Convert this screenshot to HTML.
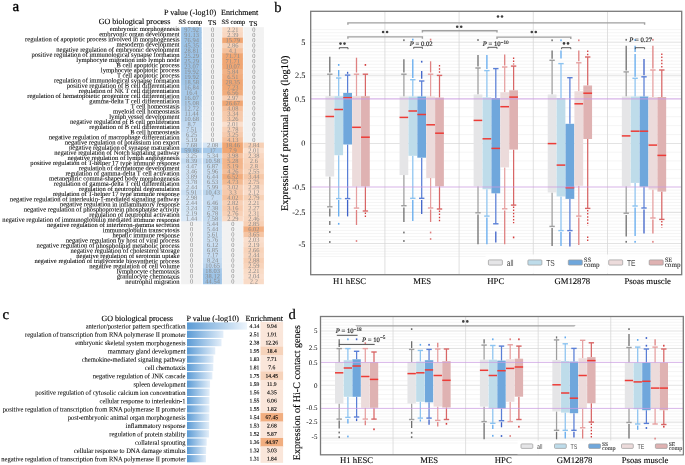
<!DOCTYPE html>
<html><head><meta charset="utf-8"><style>
html,body{margin:0;padding:0;background:#fff;width:685px;height:465px;overflow:hidden;}
svg{display:block;will-change:transform;}
text{text-rendering:geometricPrecision;}
</style></head><body>
<svg width="685" height="465" viewBox="0 0 685 465">
<rect width="685" height="465" fill="#fff"/>
<text x="12.50" y="11.10" font-size="15.0" font-family="Liberation Serif" text-anchor="start" fill="#000" stroke="#000" stroke-width="0.35">a</text>
<text x="274.30" y="11.90" font-size="14.6" font-family="Liberation Serif" text-anchor="start" fill="#000" stroke="#000" stroke-width="0.2">b</text>
<text x="2.40" y="318.80" font-size="14.6" font-family="Liberation Serif" text-anchor="start" fill="#000" stroke="#000" stroke-width="0.35">c</text>
<text x="288.50" y="319.00" font-size="14.6" font-family="Liberation Serif" text-anchor="start" fill="#000" stroke="#000" stroke-width="0.2">d</text>
<text x="164.00" y="14.50" font-size="8.1" font-family="Liberation Serif" text-anchor="start" fill="#000" stroke="#000" stroke-width="0.12">P value (-log10)</text>
<text x="221.00" y="14.50" font-size="8.0" font-family="Liberation Serif" text-anchor="start" fill="#000" stroke="#000" stroke-width="0.12">Enrichment</text>
<text x="98.80" y="24.10" font-size="8.0" font-family="Liberation Serif" text-anchor="start" fill="#000" stroke="#000" stroke-width="0.12">GO biological process</text>
<text x="190.30" y="24.00" font-size="6.6" font-family="Liberation Serif" text-anchor="middle" fill="#000" stroke="#000" stroke-width="0.12">SS comp</text>
<text x="212.20" y="24.80" font-size="7.2" font-family="Liberation Serif" text-anchor="middle" fill="#000" stroke="#000" stroke-width="0.12">TS</text>
<text x="233.30" y="24.40" font-size="6.6" font-family="Liberation Serif" text-anchor="middle" fill="#000" stroke="#000" stroke-width="0.12">SS comp</text>
<text x="253.30" y="25.50" font-size="7.2" font-family="Liberation Serif" text-anchor="middle" fill="#000" stroke="#000" stroke-width="0.12">TS</text>
<rect x="181.10" y="27.18" width="20.60" height="5.85" fill="#9dc3e6"/>
<rect x="202.90" y="27.18" width="19.00" height="5.85" fill="#f2f2f2"/>
<rect x="222.20" y="27.18" width="20.70" height="5.85" fill="#f9dbc6"/>
<rect x="243.40" y="27.18" width="20.50" height="5.85" fill="#f2f2f2"/>
<text transform="translate(191.60,31.80) rotate(0.05) scale(1.0,1.0)" font-size="6.45" font-family="Liberation Serif" text-anchor="middle" fill="#888888">97.92</text>
<text transform="translate(212.60,31.80) rotate(0.05) scale(1.0,1.0)" font-size="6.45" font-family="Liberation Serif" text-anchor="middle" fill="#888888">0</text>
<text transform="translate(232.75,31.80) rotate(0.05) scale(1.0,1.0)" font-size="6.45" font-family="Liberation Serif" text-anchor="middle" fill="#888888">2.21</text>
<text transform="translate(253.85,31.80) rotate(0.05) scale(1.0,1.0)" font-size="6.45" font-family="Liberation Serif" text-anchor="middle" fill="#888888">0</text>
<rect x="181.10" y="32.42" width="20.60" height="5.85" fill="#9dc3e6"/>
<rect x="202.90" y="32.42" width="19.00" height="5.85" fill="#f2f2f2"/>
<rect x="222.20" y="32.42" width="20.70" height="5.85" fill="#f9d7c1"/>
<rect x="243.40" y="32.42" width="20.50" height="5.85" fill="#f2f2f2"/>
<text transform="translate(191.60,37.05) rotate(0.05) scale(1.0,1.0)" font-size="6.45" font-family="Liberation Serif" text-anchor="middle" fill="#888888">91.13</text>
<text transform="translate(212.60,37.05) rotate(0.05) scale(1.0,1.0)" font-size="6.45" font-family="Liberation Serif" text-anchor="middle" fill="#888888">0</text>
<text transform="translate(232.75,37.05) rotate(0.05) scale(1.0,1.0)" font-size="6.45" font-family="Liberation Serif" text-anchor="middle" fill="#888888">2.39</text>
<text transform="translate(253.85,37.05) rotate(0.05) scale(1.0,1.0)" font-size="6.45" font-family="Liberation Serif" text-anchor="middle" fill="#888888">0</text>
<rect x="181.10" y="37.67" width="20.60" height="5.85" fill="#9dc3e6"/>
<rect x="202.90" y="37.67" width="19.00" height="5.85" fill="#f2f2f2"/>
<rect x="222.20" y="37.67" width="20.70" height="5.85" fill="#f0a673"/>
<rect x="243.40" y="37.67" width="20.50" height="5.85" fill="#f2f2f2"/>
<text transform="translate(191.60,42.29) rotate(0.05) scale(1.0,1.0)" font-size="6.45" font-family="Liberation Serif" text-anchor="middle" fill="#888888">76.94</text>
<text transform="translate(212.60,42.29) rotate(0.05) scale(1.0,1.0)" font-size="6.45" font-family="Liberation Serif" text-anchor="middle" fill="#888888">0</text>
<text transform="translate(232.75,42.29) rotate(0.05) scale(1.0,1.0)" font-size="6.45" font-family="Liberation Serif" text-anchor="middle" fill="#888888">15.79</text>
<text transform="translate(253.85,42.29) rotate(0.05) scale(1.0,1.0)" font-size="6.45" font-family="Liberation Serif" text-anchor="middle" fill="#888888">0</text>
<rect x="181.10" y="42.91" width="20.60" height="5.85" fill="#9dc3e6"/>
<rect x="202.90" y="42.91" width="19.00" height="5.85" fill="#f2f2f2"/>
<rect x="222.20" y="42.91" width="20.70" height="5.85" fill="#f7d0b5"/>
<rect x="243.40" y="42.91" width="20.50" height="5.85" fill="#f2f2f2"/>
<text transform="translate(191.60,47.54) rotate(0.05) scale(1.0,1.0)" font-size="6.45" font-family="Liberation Serif" text-anchor="middle" fill="#888888">45.35</text>
<text transform="translate(212.60,47.54) rotate(0.05) scale(1.0,1.0)" font-size="6.45" font-family="Liberation Serif" text-anchor="middle" fill="#888888">0</text>
<text transform="translate(232.75,47.54) rotate(0.05) scale(1.0,1.0)" font-size="6.45" font-family="Liberation Serif" text-anchor="middle" fill="#888888">2.86</text>
<text transform="translate(253.85,47.54) rotate(0.05) scale(1.0,1.0)" font-size="6.45" font-family="Liberation Serif" text-anchor="middle" fill="#888888">0</text>
<rect x="181.10" y="48.16" width="20.60" height="5.85" fill="#9dc3e6"/>
<rect x="202.90" y="48.16" width="19.00" height="5.85" fill="#f2f2f2"/>
<rect x="222.20" y="48.16" width="20.70" height="5.85" fill="#f5c09c"/>
<rect x="243.40" y="48.16" width="20.50" height="5.85" fill="#f2f2f2"/>
<text transform="translate(191.60,52.78) rotate(0.05) scale(1.0,1.0)" font-size="6.45" font-family="Liberation Serif" text-anchor="middle" fill="#888888">28.81</text>
<text transform="translate(212.60,52.78) rotate(0.05) scale(1.0,1.0)" font-size="6.45" font-family="Liberation Serif" text-anchor="middle" fill="#888888">0</text>
<text transform="translate(232.75,52.78) rotate(0.05) scale(1.0,1.0)" font-size="6.45" font-family="Liberation Serif" text-anchor="middle" fill="#888888">4.1</text>
<text transform="translate(253.85,52.78) rotate(0.05) scale(1.0,1.0)" font-size="6.45" font-family="Liberation Serif" text-anchor="middle" fill="#888888">0</text>
<rect x="181.10" y="53.41" width="20.60" height="5.85" fill="#9dc3e6"/>
<rect x="202.90" y="53.41" width="19.00" height="5.85" fill="#f2f2f2"/>
<rect x="222.20" y="53.41" width="20.70" height="5.85" fill="#f0a673"/>
<rect x="243.40" y="53.41" width="20.50" height="5.85" fill="#f2f2f2"/>
<text transform="translate(191.60,58.03) rotate(0.05) scale(1.0,1.0)" font-size="6.45" font-family="Liberation Serif" text-anchor="middle" fill="#888888">25.29</text>
<text transform="translate(212.60,58.03) rotate(0.05) scale(1.0,1.0)" font-size="6.45" font-family="Liberation Serif" text-anchor="middle" fill="#888888">0</text>
<text transform="translate(232.75,58.03) rotate(0.05) scale(1.0,1.0)" font-size="6.45" font-family="Liberation Serif" text-anchor="middle" fill="#888888">71.71</text>
<text transform="translate(253.85,58.03) rotate(0.05) scale(1.0,1.0)" font-size="6.45" font-family="Liberation Serif" text-anchor="middle" fill="#888888">0</text>
<rect x="181.10" y="58.65" width="20.60" height="5.85" fill="#9dc3e6"/>
<rect x="202.90" y="58.65" width="19.00" height="5.85" fill="#f2f2f2"/>
<rect x="222.20" y="58.65" width="20.70" height="5.85" fill="#f0a673"/>
<rect x="243.40" y="58.65" width="20.50" height="5.85" fill="#f2f2f2"/>
<text transform="translate(191.60,63.28) rotate(0.05) scale(1.0,1.0)" font-size="6.45" font-family="Liberation Serif" text-anchor="middle" fill="#888888">25.29</text>
<text transform="translate(212.60,63.28) rotate(0.05) scale(1.0,1.0)" font-size="6.45" font-family="Liberation Serif" text-anchor="middle" fill="#888888">0</text>
<text transform="translate(232.75,63.28) rotate(0.05) scale(1.0,1.0)" font-size="6.45" font-family="Liberation Serif" text-anchor="middle" fill="#888888">71.71</text>
<text transform="translate(253.85,63.28) rotate(0.05) scale(1.0,1.0)" font-size="6.45" font-family="Liberation Serif" text-anchor="middle" fill="#888888">0</text>
<rect x="181.10" y="63.90" width="20.60" height="5.85" fill="#9dc3e6"/>
<rect x="202.90" y="63.90" width="19.00" height="5.85" fill="#f2f2f2"/>
<rect x="222.20" y="63.90" width="20.70" height="5.85" fill="#f0a673"/>
<rect x="243.40" y="63.90" width="20.50" height="5.85" fill="#f2f2f2"/>
<text transform="translate(191.60,68.52) rotate(0.05) scale(1.0,1.0)" font-size="6.45" font-family="Liberation Serif" text-anchor="middle" fill="#888888">23.07</text>
<text transform="translate(212.60,68.52) rotate(0.05) scale(1.0,1.0)" font-size="6.45" font-family="Liberation Serif" text-anchor="middle" fill="#888888">0</text>
<text transform="translate(232.75,68.52) rotate(0.05) scale(1.0,1.0)" font-size="6.45" font-family="Liberation Serif" text-anchor="middle" fill="#888888">10.07</text>
<text transform="translate(253.85,68.52) rotate(0.05) scale(1.0,1.0)" font-size="6.45" font-family="Liberation Serif" text-anchor="middle" fill="#888888">0</text>
<rect x="181.10" y="69.14" width="20.60" height="5.85" fill="#9dc3e6"/>
<rect x="202.90" y="69.14" width="19.00" height="5.85" fill="#f2f2f2"/>
<rect x="222.20" y="69.14" width="20.70" height="5.85" fill="#f2b184"/>
<rect x="243.40" y="69.14" width="20.50" height="5.85" fill="#f2f2f2"/>
<text transform="translate(191.60,73.77) rotate(0.05) scale(1.0,1.0)" font-size="6.45" font-family="Liberation Serif" text-anchor="middle" fill="#888888">19.92</text>
<text transform="translate(212.60,73.77) rotate(0.05) scale(1.0,1.0)" font-size="6.45" font-family="Liberation Serif" text-anchor="middle" fill="#888888">0</text>
<text transform="translate(232.75,73.77) rotate(0.05) scale(1.0,1.0)" font-size="6.45" font-family="Liberation Serif" text-anchor="middle" fill="#888888">5.84</text>
<text transform="translate(253.85,73.77) rotate(0.05) scale(1.0,1.0)" font-size="6.45" font-family="Liberation Serif" text-anchor="middle" fill="#888888">0</text>
<rect x="181.10" y="74.39" width="20.60" height="5.85" fill="#9dc3e6"/>
<rect x="202.90" y="74.39" width="19.00" height="5.85" fill="#f2f2f2"/>
<rect x="222.20" y="74.39" width="20.70" height="5.85" fill="#f1ac7d"/>
<rect x="243.40" y="74.39" width="20.50" height="5.85" fill="#f2f2f2"/>
<text transform="translate(191.60,79.01) rotate(0.05) scale(1.0,1.0)" font-size="6.45" font-family="Liberation Serif" text-anchor="middle" fill="#888888">19.92</text>
<text transform="translate(212.60,79.01) rotate(0.05) scale(1.0,1.0)" font-size="6.45" font-family="Liberation Serif" text-anchor="middle" fill="#888888">0</text>
<text transform="translate(232.75,79.01) rotate(0.05) scale(1.0,1.0)" font-size="6.45" font-family="Liberation Serif" text-anchor="middle" fill="#888888">6.51</text>
<text transform="translate(253.85,79.01) rotate(0.05) scale(1.0,1.0)" font-size="6.45" font-family="Liberation Serif" text-anchor="middle" fill="#888888">0</text>
<rect x="181.10" y="79.64" width="20.60" height="5.85" fill="#a1c6e7"/>
<rect x="202.90" y="79.64" width="19.00" height="5.85" fill="#f2f2f2"/>
<rect x="222.20" y="79.64" width="20.70" height="5.85" fill="#f0a673"/>
<rect x="243.40" y="79.64" width="20.50" height="5.85" fill="#f2f2f2"/>
<text transform="translate(191.60,84.26) rotate(0.05) scale(1.0,1.0)" font-size="6.45" font-family="Liberation Serif" text-anchor="middle" fill="#888888">18.58</text>
<text transform="translate(212.60,84.26) rotate(0.05) scale(1.0,1.0)" font-size="6.45" font-family="Liberation Serif" text-anchor="middle" fill="#888888">0</text>
<text transform="translate(232.75,84.26) rotate(0.05) scale(1.0,1.0)" font-size="6.45" font-family="Liberation Serif" text-anchor="middle" fill="#888888">28.35</text>
<text transform="translate(253.85,84.26) rotate(0.05) scale(1.0,1.0)" font-size="6.45" font-family="Liberation Serif" text-anchor="middle" fill="#888888">0</text>
<rect x="181.10" y="84.88" width="20.60" height="5.85" fill="#a7c9e9"/>
<rect x="202.90" y="84.88" width="19.00" height="5.85" fill="#f2f2f2"/>
<rect x="222.20" y="84.88" width="20.70" height="5.85" fill="#f0a875"/>
<rect x="243.40" y="84.88" width="20.50" height="5.85" fill="#f2f2f2"/>
<text transform="translate(191.60,89.50) rotate(0.05) scale(1.0,1.0)" font-size="6.45" font-family="Liberation Serif" text-anchor="middle" fill="#888888">16.84</text>
<text transform="translate(212.60,89.50) rotate(0.05) scale(1.0,1.0)" font-size="6.45" font-family="Liberation Serif" text-anchor="middle" fill="#888888">0</text>
<text transform="translate(232.75,89.50) rotate(0.05) scale(1.0,1.0)" font-size="6.45" font-family="Liberation Serif" text-anchor="middle" fill="#888888">7.23</text>
<text transform="translate(253.85,89.50) rotate(0.05) scale(1.0,1.0)" font-size="6.45" font-family="Liberation Serif" text-anchor="middle" fill="#888888">0</text>
<rect x="181.10" y="90.13" width="20.60" height="5.85" fill="#a8cae9"/>
<rect x="202.90" y="90.13" width="19.00" height="5.85" fill="#f2f2f2"/>
<rect x="222.20" y="90.13" width="20.70" height="5.85" fill="#f1ac7c"/>
<rect x="243.40" y="90.13" width="20.50" height="5.85" fill="#f2f2f2"/>
<text transform="translate(191.60,94.75) rotate(0.05) scale(1.0,1.0)" font-size="6.45" font-family="Liberation Serif" text-anchor="middle" fill="#888888">16.4</text>
<text transform="translate(212.60,94.75) rotate(0.05) scale(1.0,1.0)" font-size="6.45" font-family="Liberation Serif" text-anchor="middle" fill="#888888">0</text>
<text transform="translate(232.75,94.75) rotate(0.05) scale(1.0,1.0)" font-size="6.45" font-family="Liberation Serif" text-anchor="middle" fill="#888888">6.56</text>
<text transform="translate(253.85,94.75) rotate(0.05) scale(1.0,1.0)" font-size="6.45" font-family="Liberation Serif" text-anchor="middle" fill="#888888">0</text>
<rect x="181.10" y="95.37" width="20.60" height="5.85" fill="#a9cbe9"/>
<rect x="202.90" y="95.37" width="19.00" height="5.85" fill="#f2f2f2"/>
<rect x="222.20" y="95.37" width="20.70" height="5.85" fill="#f7ceb2"/>
<rect x="243.40" y="95.37" width="20.50" height="5.85" fill="#f2f2f2"/>
<text transform="translate(191.60,100.00) rotate(0.05) scale(1.0,1.0)" font-size="6.45" font-family="Liberation Serif" text-anchor="middle" fill="#888888">16.07</text>
<text transform="translate(212.60,100.00) rotate(0.05) scale(1.0,1.0)" font-size="6.45" font-family="Liberation Serif" text-anchor="middle" fill="#888888">0</text>
<text transform="translate(232.75,100.00) rotate(0.05) scale(1.0,1.0)" font-size="6.45" font-family="Liberation Serif" text-anchor="middle" fill="#888888">2.97</text>
<text transform="translate(253.85,100.00) rotate(0.05) scale(1.0,1.0)" font-size="6.45" font-family="Liberation Serif" text-anchor="middle" fill="#888888">0</text>
<rect x="181.10" y="100.62" width="20.60" height="5.85" fill="#adcdea"/>
<rect x="202.90" y="100.62" width="19.00" height="5.85" fill="#f2f2f2"/>
<rect x="222.20" y="100.62" width="20.70" height="5.85" fill="#f0a673"/>
<rect x="243.40" y="100.62" width="20.50" height="5.85" fill="#f2f2f2"/>
<text transform="translate(191.60,105.24) rotate(0.05) scale(1.0,1.0)" font-size="6.45" font-family="Liberation Serif" text-anchor="middle" fill="#888888">15.08</text>
<text transform="translate(212.60,105.24) rotate(0.05) scale(1.0,1.0)" font-size="6.45" font-family="Liberation Serif" text-anchor="middle" fill="#888888">0</text>
<text transform="translate(232.75,105.24) rotate(0.05) scale(1.0,1.0)" font-size="6.45" font-family="Liberation Serif" text-anchor="middle" fill="#888888">26.67</text>
<text transform="translate(253.85,105.24) rotate(0.05) scale(1.0,1.0)" font-size="6.45" font-family="Liberation Serif" text-anchor="middle" fill="#888888">0</text>
<rect x="181.10" y="105.86" width="20.60" height="5.85" fill="#b4d1ec"/>
<rect x="202.90" y="105.86" width="19.00" height="5.85" fill="#f2f2f2"/>
<rect x="222.20" y="105.86" width="20.70" height="5.85" fill="#f5c09c"/>
<rect x="243.40" y="105.86" width="20.50" height="5.85" fill="#f2f2f2"/>
<text transform="translate(191.60,110.49) rotate(0.05) scale(1.0,1.0)" font-size="6.45" font-family="Liberation Serif" text-anchor="middle" fill="#888888">12.72</text>
<text transform="translate(212.60,110.49) rotate(0.05) scale(1.0,1.0)" font-size="6.45" font-family="Liberation Serif" text-anchor="middle" fill="#888888">0</text>
<text transform="translate(232.75,110.49) rotate(0.05) scale(1.0,1.0)" font-size="6.45" font-family="Liberation Serif" text-anchor="middle" fill="#888888">4.08</text>
<text transform="translate(253.85,110.49) rotate(0.05) scale(1.0,1.0)" font-size="6.45" font-family="Liberation Serif" text-anchor="middle" fill="#888888">0</text>
<rect x="181.10" y="111.11" width="20.60" height="5.85" fill="#b8d4ed"/>
<rect x="202.90" y="111.11" width="19.00" height="5.85" fill="#f2f2f2"/>
<rect x="222.20" y="111.11" width="20.70" height="5.85" fill="#f6c9aa"/>
<rect x="243.40" y="111.11" width="20.50" height="5.85" fill="#f2f2f2"/>
<text transform="translate(191.60,115.73) rotate(0.05) scale(1.0,1.0)" font-size="6.45" font-family="Liberation Serif" text-anchor="middle" fill="#888888">11.44</text>
<text transform="translate(212.60,115.73) rotate(0.05) scale(1.0,1.0)" font-size="6.45" font-family="Liberation Serif" text-anchor="middle" fill="#888888">0</text>
<text transform="translate(232.75,115.73) rotate(0.05) scale(1.0,1.0)" font-size="6.45" font-family="Liberation Serif" text-anchor="middle" fill="#888888">3.34</text>
<text transform="translate(253.85,115.73) rotate(0.05) scale(1.0,1.0)" font-size="6.45" font-family="Liberation Serif" text-anchor="middle" fill="#888888">0</text>
<rect x="181.10" y="116.36" width="20.60" height="5.85" fill="#bad5ee"/>
<rect x="202.90" y="116.36" width="19.00" height="5.85" fill="#f2f2f2"/>
<rect x="222.20" y="116.36" width="20.70" height="5.85" fill="#f6caac"/>
<rect x="243.40" y="116.36" width="20.50" height="5.85" fill="#f2f2f2"/>
<text transform="translate(191.60,120.98) rotate(0.05) scale(1.0,1.0)" font-size="6.45" font-family="Liberation Serif" text-anchor="middle" fill="#888888">10.68</text>
<text transform="translate(212.60,120.98) rotate(0.05) scale(1.0,1.0)" font-size="6.45" font-family="Liberation Serif" text-anchor="middle" fill="#888888">0</text>
<text transform="translate(232.75,120.98) rotate(0.05) scale(1.0,1.0)" font-size="6.45" font-family="Liberation Serif" text-anchor="middle" fill="#888888">3.26</text>
<text transform="translate(253.85,120.98) rotate(0.05) scale(1.0,1.0)" font-size="6.45" font-family="Liberation Serif" text-anchor="middle" fill="#888888">0</text>
<rect x="181.10" y="121.60" width="20.60" height="5.85" fill="#c1d9f0"/>
<rect x="202.90" y="121.60" width="19.00" height="5.85" fill="#f2f2f2"/>
<rect x="222.20" y="121.60" width="20.70" height="5.85" fill="#fadfcd"/>
<rect x="243.40" y="121.60" width="20.50" height="5.85" fill="#f2f2f2"/>
<text transform="translate(191.60,126.23) rotate(0.05) scale(1.0,1.0)" font-size="6.45" font-family="Liberation Serif" text-anchor="middle" fill="#888888">8.7</text>
<text transform="translate(212.60,126.23) rotate(0.05) scale(1.0,1.0)" font-size="6.45" font-family="Liberation Serif" text-anchor="middle" fill="#888888">0</text>
<text transform="translate(232.75,126.23) rotate(0.05) scale(1.0,1.0)" font-size="6.45" font-family="Liberation Serif" text-anchor="middle" fill="#888888">2.01</text>
<text transform="translate(253.85,126.23) rotate(0.05) scale(1.0,1.0)" font-size="6.45" font-family="Liberation Serif" text-anchor="middle" fill="#888888">0</text>
<rect x="181.10" y="126.85" width="20.60" height="5.85" fill="#c4dbf1"/>
<rect x="202.90" y="126.85" width="19.00" height="5.85" fill="#f2f2f2"/>
<rect x="222.20" y="126.85" width="20.70" height="5.85" fill="#f8d1b7"/>
<rect x="243.40" y="126.85" width="20.50" height="5.85" fill="#f2f2f2"/>
<text transform="translate(191.60,131.47) rotate(0.05) scale(1.0,1.0)" font-size="6.45" font-family="Liberation Serif" text-anchor="middle" fill="#888888">7.51</text>
<text transform="translate(212.60,131.47) rotate(0.05) scale(1.0,1.0)" font-size="6.45" font-family="Liberation Serif" text-anchor="middle" fill="#888888">0</text>
<text transform="translate(232.75,131.47) rotate(0.05) scale(1.0,1.0)" font-size="6.45" font-family="Liberation Serif" text-anchor="middle" fill="#888888">2.78</text>
<text transform="translate(253.85,131.47) rotate(0.05) scale(1.0,1.0)" font-size="6.45" font-family="Liberation Serif" text-anchor="middle" fill="#888888">0</text>
<rect x="181.10" y="132.09" width="20.60" height="5.85" fill="#c8def2"/>
<rect x="202.90" y="132.09" width="19.00" height="5.85" fill="#f2f2f2"/>
<rect x="222.20" y="132.09" width="20.70" height="5.85" fill="#f6caac"/>
<rect x="243.40" y="132.09" width="20.50" height="5.85" fill="#f2f2f2"/>
<text transform="translate(191.60,136.72) rotate(0.05) scale(1.0,1.0)" font-size="6.45" font-family="Liberation Serif" text-anchor="middle" fill="#888888">6.25</text>
<text transform="translate(212.60,136.72) rotate(0.05) scale(1.0,1.0)" font-size="6.45" font-family="Liberation Serif" text-anchor="middle" fill="#888888">0</text>
<text transform="translate(232.75,136.72) rotate(0.05) scale(1.0,1.0)" font-size="6.45" font-family="Liberation Serif" text-anchor="middle" fill="#888888">3.25</text>
<text transform="translate(253.85,136.72) rotate(0.05) scale(1.0,1.0)" font-size="6.45" font-family="Liberation Serif" text-anchor="middle" fill="#888888">0</text>
<rect x="181.10" y="137.34" width="20.60" height="5.85" fill="#cce0f2"/>
<rect x="202.90" y="137.34" width="19.00" height="5.85" fill="#f2f2f2"/>
<rect x="222.20" y="137.34" width="20.70" height="5.85" fill="#f5c09c"/>
<rect x="243.40" y="137.34" width="20.50" height="5.85" fill="#f2f2f2"/>
<text transform="translate(191.60,141.96) rotate(0.05) scale(1.0,1.0)" font-size="6.45" font-family="Liberation Serif" text-anchor="middle" fill="#888888">5.19</text>
<text transform="translate(212.60,141.96) rotate(0.05) scale(1.0,1.0)" font-size="6.45" font-family="Liberation Serif" text-anchor="middle" fill="#888888">0</text>
<text transform="translate(232.75,141.96) rotate(0.05) scale(1.0,1.0)" font-size="6.45" font-family="Liberation Serif" text-anchor="middle" fill="#888888">4.13</text>
<text transform="translate(253.85,141.96) rotate(0.05) scale(1.0,1.0)" font-size="6.45" font-family="Liberation Serif" text-anchor="middle" fill="#888888">0</text>
<rect x="181.10" y="142.59" width="20.60" height="5.85" fill="#c4dbf0"/>
<rect x="202.90" y="142.59" width="19.00" height="5.85" fill="#d6e6f5"/>
<rect x="222.20" y="142.59" width="20.70" height="5.85" fill="#f0a673"/>
<rect x="243.40" y="142.59" width="20.50" height="5.85" fill="#f7d0b5"/>
<text transform="translate(191.60,147.21) rotate(0.05) scale(1.0,1.0)" font-size="6.45" font-family="Liberation Serif" text-anchor="middle" fill="#888888">7.68</text>
<text transform="translate(212.60,147.21) rotate(0.05) scale(1.0,1.0)" font-size="6.45" font-family="Liberation Serif" text-anchor="middle" fill="#888888">2.08</text>
<text transform="translate(232.75,147.21) rotate(0.05) scale(1.0,1.0)" font-size="6.45" font-family="Liberation Serif" text-anchor="middle" fill="#888888">18.46</text>
<text transform="translate(253.85,147.21) rotate(0.05) scale(1.0,1.0)" font-size="6.45" font-family="Liberation Serif" text-anchor="middle" fill="#888888">2.84</text>
<rect x="181.10" y="147.83" width="20.60" height="5.85" fill="#9dc3e6"/>
<rect x="202.90" y="147.83" width="19.00" height="5.85" fill="#a6c9e9"/>
<rect x="222.20" y="147.83" width="20.70" height="5.85" fill="#f0a673"/>
<rect x="243.40" y="147.83" width="20.50" height="5.85" fill="#fadfcd"/>
<text transform="translate(191.60,152.45) rotate(0.05) scale(1.0,1.0)" font-size="6.45" font-family="Liberation Serif" text-anchor="middle" fill="#888888">59.86</text>
<text transform="translate(212.60,152.45) rotate(0.05) scale(1.0,1.0)" font-size="6.45" font-family="Liberation Serif" text-anchor="middle" fill="#888888">17</text>
<text transform="translate(232.75,152.45) rotate(0.05) scale(1.0,1.0)" font-size="6.45" font-family="Liberation Serif" text-anchor="middle" fill="#888888">7.9</text>
<text transform="translate(253.85,152.45) rotate(0.05) scale(1.0,1.0)" font-size="6.45" font-family="Liberation Serif" text-anchor="middle" fill="#888888">2.01</text>
<rect x="181.10" y="153.08" width="20.60" height="5.85" fill="#d2e4f4"/>
<rect x="202.90" y="153.08" width="19.00" height="5.85" fill="#cbe0f2"/>
<rect x="222.20" y="153.08" width="20.70" height="5.85" fill="#f5c19e"/>
<rect x="243.40" y="153.08" width="20.50" height="5.85" fill="#f9d7c1"/>
<text transform="translate(191.60,157.70) rotate(0.05) scale(1.0,1.0)" font-size="6.45" font-family="Liberation Serif" text-anchor="middle" fill="#888888">3.25</text>
<text transform="translate(212.60,157.70) rotate(0.05) scale(1.0,1.0)" font-size="6.45" font-family="Liberation Serif" text-anchor="middle" fill="#888888">5.34</text>
<text transform="translate(232.75,157.70) rotate(0.05) scale(1.0,1.0)" font-size="6.45" font-family="Liberation Serif" text-anchor="middle" fill="#888888">3.98</text>
<text transform="translate(253.85,157.70) rotate(0.05) scale(1.0,1.0)" font-size="6.45" font-family="Liberation Serif" text-anchor="middle" fill="#888888">2.38</text>
<rect x="181.10" y="158.32" width="20.60" height="5.85" fill="#c2daf0"/>
<rect x="202.90" y="158.32" width="19.00" height="5.85" fill="#bbd5ee"/>
<rect x="222.20" y="158.32" width="20.70" height="5.85" fill="#f3b58b"/>
<rect x="243.40" y="158.32" width="20.50" height="5.85" fill="#f8d4bb"/>
<text transform="translate(191.60,162.95) rotate(0.05) scale(1.0,1.0)" font-size="6.45" font-family="Liberation Serif" text-anchor="middle" fill="#888888">8.39</text>
<text transform="translate(212.60,162.95) rotate(0.05) scale(1.0,1.0)" font-size="6.45" font-family="Liberation Serif" text-anchor="middle" fill="#888888">10.58</text>
<text transform="translate(232.75,162.95) rotate(0.05) scale(1.0,1.0)" font-size="6.45" font-family="Liberation Serif" text-anchor="middle" fill="#888888">5.28</text>
<text transform="translate(253.85,162.95) rotate(0.05) scale(1.0,1.0)" font-size="6.45" font-family="Liberation Serif" text-anchor="middle" fill="#888888">2.6</text>
<rect x="181.10" y="163.57" width="20.60" height="5.85" fill="#cee1f3"/>
<rect x="202.90" y="163.57" width="19.00" height="5.85" fill="#c6ddf1"/>
<rect x="222.20" y="163.57" width="20.70" height="5.85" fill="#f3b68c"/>
<rect x="243.40" y="163.57" width="20.50" height="5.85" fill="#f7d0b6"/>
<text transform="translate(191.60,168.19) rotate(0.05) scale(1.0,1.0)" font-size="6.45" font-family="Liberation Serif" text-anchor="middle" fill="#888888">4.47</text>
<text transform="translate(212.60,168.19) rotate(0.05) scale(1.0,1.0)" font-size="6.45" font-family="Liberation Serif" text-anchor="middle" fill="#888888">6.87</text>
<text transform="translate(232.75,168.19) rotate(0.05) scale(1.0,1.0)" font-size="6.45" font-family="Liberation Serif" text-anchor="middle" fill="#888888">5.19</text>
<text transform="translate(253.85,168.19) rotate(0.05) scale(1.0,1.0)" font-size="6.45" font-family="Liberation Serif" text-anchor="middle" fill="#888888">2.8</text>
<rect x="181.10" y="168.81" width="20.60" height="5.85" fill="#d1e3f4"/>
<rect x="202.90" y="168.81" width="19.00" height="5.85" fill="#c9def2"/>
<rect x="222.20" y="168.81" width="20.70" height="5.85" fill="#f4be9a"/>
<rect x="243.40" y="168.81" width="20.50" height="5.85" fill="#f8d5bc"/>
<text transform="translate(191.60,173.44) rotate(0.05) scale(1.0,1.0)" font-size="6.45" font-family="Liberation Serif" text-anchor="middle" fill="#888888">3.46</text>
<text transform="translate(212.60,173.44) rotate(0.05) scale(1.0,1.0)" font-size="6.45" font-family="Liberation Serif" text-anchor="middle" fill="#888888">5.96</text>
<text transform="translate(232.75,173.44) rotate(0.05) scale(1.0,1.0)" font-size="6.45" font-family="Liberation Serif" text-anchor="middle" fill="#888888">4.26</text>
<text transform="translate(253.85,173.44) rotate(0.05) scale(1.0,1.0)" font-size="6.45" font-family="Liberation Serif" text-anchor="middle" fill="#888888">2.55</text>
<rect x="181.10" y="174.06" width="20.60" height="5.85" fill="#d0e2f4"/>
<rect x="202.90" y="174.06" width="19.00" height="5.85" fill="#c8ddf1"/>
<rect x="222.20" y="174.06" width="20.70" height="5.85" fill="#f1ac7d"/>
<rect x="243.40" y="174.06" width="20.50" height="5.85" fill="#f6c8a8"/>
<text transform="translate(191.60,178.68) rotate(0.05) scale(1.0,1.0)" font-size="6.45" font-family="Liberation Serif" text-anchor="middle" fill="#888888">3.89</text>
<text transform="translate(212.60,178.68) rotate(0.05) scale(1.0,1.0)" font-size="6.45" font-family="Liberation Serif" text-anchor="middle" fill="#888888">6.44</text>
<text transform="translate(232.75,178.68) rotate(0.05) scale(1.0,1.0)" font-size="6.45" font-family="Liberation Serif" text-anchor="middle" fill="#888888">6.52</text>
<text transform="translate(253.85,178.68) rotate(0.05) scale(1.0,1.0)" font-size="6.45" font-family="Liberation Serif" text-anchor="middle" fill="#888888">3.44</text>
<rect x="181.10" y="179.31" width="20.60" height="5.85" fill="#d0e3f4"/>
<rect x="202.90" y="179.31" width="19.00" height="5.85" fill="#c8ddf1"/>
<rect x="222.20" y="179.31" width="20.70" height="5.85" fill="#f3ba92"/>
<rect x="243.40" y="179.31" width="20.50" height="5.85" fill="#f8d1b7"/>
<text transform="translate(191.60,183.93) rotate(0.05) scale(1.0,1.0)" font-size="6.45" font-family="Liberation Serif" text-anchor="middle" fill="#888888">3.78</text>
<text transform="translate(212.60,183.93) rotate(0.05) scale(1.0,1.0)" font-size="6.45" font-family="Liberation Serif" text-anchor="middle" fill="#888888">6.53</text>
<text transform="translate(232.75,183.93) rotate(0.05) scale(1.0,1.0)" font-size="6.45" font-family="Liberation Serif" text-anchor="middle" fill="#888888">4.73</text>
<text transform="translate(253.85,183.93) rotate(0.05) scale(1.0,1.0)" font-size="6.45" font-family="Liberation Serif" text-anchor="middle" fill="#888888">2.75</text>
<rect x="181.10" y="184.55" width="20.60" height="5.85" fill="#d4e5f5"/>
<rect x="202.90" y="184.55" width="19.00" height="5.85" fill="#c9def2"/>
<rect x="222.20" y="184.55" width="20.70" height="5.85" fill="#f7cdb1"/>
<rect x="243.40" y="184.55" width="20.50" height="5.85" fill="#f9d9c4"/>
<text transform="translate(191.60,189.18) rotate(0.05) scale(1.0,1.0)" font-size="6.45" font-family="Liberation Serif" text-anchor="middle" fill="#888888">2.44</text>
<text transform="translate(212.60,189.18) rotate(0.05) scale(1.0,1.0)" font-size="6.45" font-family="Liberation Serif" text-anchor="middle" fill="#888888">5.99</text>
<text transform="translate(232.75,189.18) rotate(0.05) scale(1.0,1.0)" font-size="6.45" font-family="Liberation Serif" text-anchor="middle" fill="#888888">3.02</text>
<text transform="translate(253.85,189.18) rotate(0.05) scale(1.0,1.0)" font-size="6.45" font-family="Liberation Serif" text-anchor="middle" fill="#888888">2.28</text>
<rect x="181.10" y="189.80" width="20.60" height="5.85" fill="#c9def2"/>
<rect x="202.90" y="189.80" width="19.00" height="5.85" fill="#bbd6ee"/>
<rect x="222.20" y="189.80" width="20.70" height="5.85" fill="#f6c9ab"/>
<rect x="243.40" y="189.80" width="20.50" height="5.85" fill="#fadcc9"/>
<text transform="translate(191.60,194.42) rotate(0.05) scale(1.0,1.0)" font-size="6.45" font-family="Liberation Serif" text-anchor="middle" fill="#888888">5.91</text>
<text transform="translate(212.60,194.42) rotate(0.05) scale(1.0,1.0)" font-size="6.45" font-family="Liberation Serif" text-anchor="middle" fill="#888888">10.43</text>
<text transform="translate(232.75,194.42) rotate(0.05) scale(1.0,1.0)" font-size="6.45" font-family="Liberation Serif" text-anchor="middle" fill="#888888">3.3</text>
<text transform="translate(253.85,194.42) rotate(0.05) scale(1.0,1.0)" font-size="6.45" font-family="Liberation Serif" text-anchor="middle" fill="#888888">2.12</text>
<rect x="181.10" y="195.04" width="20.60" height="5.85" fill="#d3e4f4"/>
<rect x="202.90" y="195.04" width="19.00" height="5.85" fill="#c6dcf1"/>
<rect x="222.20" y="195.04" width="20.70" height="5.85" fill="#f5c19d"/>
<rect x="243.40" y="195.04" width="20.50" height="5.85" fill="#f7d1b6"/>
<text transform="translate(191.60,199.67) rotate(0.05) scale(1.0,1.0)" font-size="6.45" font-family="Liberation Serif" text-anchor="middle" fill="#888888">2.98</text>
<text transform="translate(212.60,199.67) rotate(0.05) scale(1.0,1.0)" font-size="6.45" font-family="Liberation Serif" text-anchor="middle" fill="#888888">7</text>
<text transform="translate(232.75,199.67) rotate(0.05) scale(1.0,1.0)" font-size="6.45" font-family="Liberation Serif" text-anchor="middle" fill="#888888">4.02</text>
<text transform="translate(253.85,199.67) rotate(0.05) scale(1.0,1.0)" font-size="6.45" font-family="Liberation Serif" text-anchor="middle" fill="#888888">2.79</text>
<rect x="181.10" y="200.29" width="20.60" height="5.85" fill="#d4e5f5"/>
<rect x="202.90" y="200.29" width="19.00" height="5.85" fill="#c8ddf1"/>
<rect x="222.20" y="200.29" width="20.70" height="5.85" fill="#f7d0b6"/>
<rect x="243.40" y="200.29" width="20.50" height="5.85" fill="#f9dbc6"/>
<text transform="translate(191.60,204.91) rotate(0.05) scale(1.0,1.0)" font-size="6.45" font-family="Liberation Serif" text-anchor="middle" fill="#888888">2.44</text>
<text transform="translate(212.60,204.91) rotate(0.05) scale(1.0,1.0)" font-size="6.45" font-family="Liberation Serif" text-anchor="middle" fill="#888888">6.46</text>
<text transform="translate(232.75,204.91) rotate(0.05) scale(1.0,1.0)" font-size="6.45" font-family="Liberation Serif" text-anchor="middle" fill="#888888">2.82</text>
<text transform="translate(253.85,204.91) rotate(0.05) scale(1.0,1.0)" font-size="6.45" font-family="Liberation Serif" text-anchor="middle" fill="#888888">2.21</text>
<rect x="181.10" y="205.54" width="20.60" height="5.85" fill="#d2e4f4"/>
<rect x="202.90" y="205.54" width="19.00" height="5.85" fill="#c5dcf1"/>
<rect x="222.20" y="205.54" width="20.70" height="5.85" fill="#f7cbae"/>
<rect x="243.40" y="205.54" width="20.50" height="5.85" fill="#f9dac4"/>
<text transform="translate(191.60,210.16) rotate(0.05) scale(1.0,1.0)" font-size="6.45" font-family="Liberation Serif" text-anchor="middle" fill="#888888">3.24</text>
<text transform="translate(212.60,210.16) rotate(0.05) scale(1.0,1.0)" font-size="6.45" font-family="Liberation Serif" text-anchor="middle" fill="#888888">7.38</text>
<text transform="translate(232.75,210.16) rotate(0.05) scale(1.0,1.0)" font-size="6.45" font-family="Liberation Serif" text-anchor="middle" fill="#888888">3.16</text>
<text transform="translate(253.85,210.16) rotate(0.05) scale(1.0,1.0)" font-size="6.45" font-family="Liberation Serif" text-anchor="middle" fill="#888888">2.27</text>
<rect x="181.10" y="210.78" width="20.60" height="5.85" fill="#d5e6f5"/>
<rect x="202.90" y="210.78" width="19.00" height="5.85" fill="#c7ddf1"/>
<rect x="222.20" y="210.78" width="20.70" height="5.85" fill="#f8d1b7"/>
<rect x="243.40" y="210.78" width="20.50" height="5.85" fill="#f9d9c3"/>
<text transform="translate(191.60,215.40) rotate(0.05) scale(1.0,1.0)" font-size="6.45" font-family="Liberation Serif" text-anchor="middle" fill="#888888">2.19</text>
<text transform="translate(212.60,215.40) rotate(0.05) scale(1.0,1.0)" font-size="6.45" font-family="Liberation Serif" text-anchor="middle" fill="#888888">6.78</text>
<text transform="translate(232.75,215.40) rotate(0.05) scale(1.0,1.0)" font-size="6.45" font-family="Liberation Serif" text-anchor="middle" fill="#888888">2.76</text>
<text transform="translate(253.85,215.40) rotate(0.05) scale(1.0,1.0)" font-size="6.45" font-family="Liberation Serif" text-anchor="middle" fill="#888888">2.31</text>
<rect x="181.10" y="216.03" width="20.60" height="5.85" fill="#d8e7f6"/>
<rect x="202.90" y="216.03" width="19.00" height="5.85" fill="#c4dbf0"/>
<rect x="222.20" y="216.03" width="20.70" height="5.85" fill="#f9d9c4"/>
<rect x="243.40" y="216.03" width="20.50" height="5.85" fill="#f8d6bf"/>
<text transform="translate(191.60,220.65) rotate(0.05) scale(1.0,1.0)" font-size="6.45" font-family="Liberation Serif" text-anchor="middle" fill="#888888">1.44</text>
<text transform="translate(212.60,220.65) rotate(0.05) scale(1.0,1.0)" font-size="6.45" font-family="Liberation Serif" text-anchor="middle" fill="#888888">7.58</text>
<text transform="translate(232.75,220.65) rotate(0.05) scale(1.0,1.0)" font-size="6.45" font-family="Liberation Serif" text-anchor="middle" fill="#888888">2.29</text>
<text transform="translate(253.85,220.65) rotate(0.05) scale(1.0,1.0)" font-size="6.45" font-family="Liberation Serif" text-anchor="middle" fill="#888888">2.46</text>
<rect x="181.10" y="221.27" width="20.60" height="5.85" fill="#f2f2f2"/>
<rect x="202.90" y="221.27" width="19.00" height="5.85" fill="#cbdff2"/>
<rect x="222.20" y="221.27" width="20.70" height="5.85" fill="#f2f2f2"/>
<rect x="243.40" y="221.27" width="20.50" height="5.85" fill="#f7d0b5"/>
<text transform="translate(191.60,225.90) rotate(0.05) scale(1.0,1.0)" font-size="6.45" font-family="Liberation Serif" text-anchor="middle" fill="#888888">0</text>
<text transform="translate(212.60,225.90) rotate(0.05) scale(1.0,1.0)" font-size="6.45" font-family="Liberation Serif" text-anchor="middle" fill="#888888">5.44</text>
<text transform="translate(232.75,225.90) rotate(0.05) scale(1.0,1.0)" font-size="6.45" font-family="Liberation Serif" text-anchor="middle" fill="#888888">0</text>
<text transform="translate(253.85,225.90) rotate(0.05) scale(1.0,1.0)" font-size="6.45" font-family="Liberation Serif" text-anchor="middle" fill="#888888">2.85</text>
<rect x="181.10" y="226.52" width="20.60" height="5.85" fill="#f2f2f2"/>
<rect x="202.90" y="226.52" width="19.00" height="5.85" fill="#cbdff2"/>
<rect x="222.20" y="226.52" width="20.70" height="5.85" fill="#f2f2f2"/>
<rect x="243.40" y="226.52" width="20.50" height="5.85" fill="#f2af82"/>
<text transform="translate(191.60,231.14) rotate(0.05) scale(1.0,1.0)" font-size="6.45" font-family="Liberation Serif" text-anchor="middle" fill="#888888">0</text>
<text transform="translate(212.60,231.14) rotate(0.05) scale(1.0,1.0)" font-size="6.45" font-family="Liberation Serif" text-anchor="middle" fill="#888888">5.44</text>
<text transform="translate(232.75,231.14) rotate(0.05) scale(1.0,1.0)" font-size="6.45" font-family="Liberation Serif" text-anchor="middle" fill="#888888">0</text>
<text transform="translate(253.85,231.14) rotate(0.05) scale(1.0,1.0)" font-size="6.45" font-family="Liberation Serif" text-anchor="middle" fill="#888888">6.02</text>
<rect x="181.10" y="231.76" width="20.60" height="5.85" fill="#f2f2f2"/>
<rect x="202.90" y="231.76" width="19.00" height="5.85" fill="#cadff2"/>
<rect x="222.20" y="231.76" width="20.70" height="5.85" fill="#f2f2f2"/>
<rect x="243.40" y="231.76" width="20.50" height="5.85" fill="#f5c5a4"/>
<text transform="translate(191.60,236.39) rotate(0.05) scale(1.0,1.0)" font-size="6.45" font-family="Liberation Serif" text-anchor="middle" fill="#888888">0</text>
<text transform="translate(212.60,236.39) rotate(0.05) scale(1.0,1.0)" font-size="6.45" font-family="Liberation Serif" text-anchor="middle" fill="#888888">5.61</text>
<text transform="translate(232.75,236.39) rotate(0.05) scale(1.0,1.0)" font-size="6.45" font-family="Liberation Serif" text-anchor="middle" fill="#888888">0</text>
<text transform="translate(253.85,236.39) rotate(0.05) scale(1.0,1.0)" font-size="6.45" font-family="Liberation Serif" text-anchor="middle" fill="#888888">3.65</text>
<rect x="181.10" y="237.01" width="20.60" height="5.85" fill="#f2f2f2"/>
<rect x="202.90" y="237.01" width="19.00" height="5.85" fill="#cadff2"/>
<rect x="222.20" y="237.01" width="20.70" height="5.85" fill="#f2f2f2"/>
<rect x="243.40" y="237.01" width="20.50" height="5.85" fill="#fadecc"/>
<text transform="translate(191.60,241.63) rotate(0.05) scale(1.0,1.0)" font-size="6.45" font-family="Liberation Serif" text-anchor="middle" fill="#888888">0</text>
<text transform="translate(212.60,241.63) rotate(0.05) scale(1.0,1.0)" font-size="6.45" font-family="Liberation Serif" text-anchor="middle" fill="#888888">5.76</text>
<text transform="translate(232.75,241.63) rotate(0.05) scale(1.0,1.0)" font-size="6.45" font-family="Liberation Serif" text-anchor="middle" fill="#888888">0</text>
<text transform="translate(253.85,241.63) rotate(0.05) scale(1.0,1.0)" font-size="6.45" font-family="Liberation Serif" text-anchor="middle" fill="#888888">2.03</text>
<rect x="181.10" y="242.26" width="20.60" height="5.85" fill="#f2f2f2"/>
<rect x="202.90" y="242.26" width="19.00" height="5.85" fill="#c9def2"/>
<rect x="222.20" y="242.26" width="20.70" height="5.85" fill="#f2f2f2"/>
<rect x="243.40" y="242.26" width="20.50" height="5.85" fill="#f9dbc7"/>
<text transform="translate(191.60,246.88) rotate(0.05) scale(1.0,1.0)" font-size="6.45" font-family="Liberation Serif" text-anchor="middle" fill="#888888">0</text>
<text transform="translate(212.60,246.88) rotate(0.05) scale(1.0,1.0)" font-size="6.45" font-family="Liberation Serif" text-anchor="middle" fill="#888888">6.12</text>
<text transform="translate(232.75,246.88) rotate(0.05) scale(1.0,1.0)" font-size="6.45" font-family="Liberation Serif" text-anchor="middle" fill="#888888">0</text>
<text transform="translate(253.85,246.88) rotate(0.05) scale(1.0,1.0)" font-size="6.45" font-family="Liberation Serif" text-anchor="middle" fill="#888888">2.19</text>
<rect x="181.10" y="247.50" width="20.60" height="5.85" fill="#f2f2f2"/>
<rect x="202.90" y="247.50" width="19.00" height="5.85" fill="#c7ddf1"/>
<rect x="222.20" y="247.50" width="20.70" height="5.85" fill="#f2f2f2"/>
<rect x="243.40" y="247.50" width="20.50" height="5.85" fill="#f8d3ba"/>
<text transform="translate(191.60,252.13) rotate(0.05) scale(1.0,1.0)" font-size="6.45" font-family="Liberation Serif" text-anchor="middle" fill="#888888">0</text>
<text transform="translate(212.60,252.13) rotate(0.05) scale(1.0,1.0)" font-size="6.45" font-family="Liberation Serif" text-anchor="middle" fill="#888888">6.85</text>
<text transform="translate(232.75,252.13) rotate(0.05) scale(1.0,1.0)" font-size="6.45" font-family="Liberation Serif" text-anchor="middle" fill="#888888">0</text>
<text transform="translate(253.85,252.13) rotate(0.05) scale(1.0,1.0)" font-size="6.45" font-family="Liberation Serif" text-anchor="middle" fill="#888888">2.66</text>
<rect x="181.10" y="252.75" width="20.60" height="5.85" fill="#f2f2f2"/>
<rect x="202.90" y="252.75" width="19.00" height="5.85" fill="#c6dcf1"/>
<rect x="222.20" y="252.75" width="20.70" height="5.85" fill="#f2f2f2"/>
<rect x="243.40" y="252.75" width="20.50" height="5.85" fill="#f8d6bf"/>
<text transform="translate(191.60,257.37) rotate(0.05) scale(1.0,1.0)" font-size="6.45" font-family="Liberation Serif" text-anchor="middle" fill="#888888">0</text>
<text transform="translate(212.60,257.37) rotate(0.05) scale(1.0,1.0)" font-size="6.45" font-family="Liberation Serif" text-anchor="middle" fill="#888888">7.17</text>
<text transform="translate(232.75,257.37) rotate(0.05) scale(1.0,1.0)" font-size="6.45" font-family="Liberation Serif" text-anchor="middle" fill="#888888">0</text>
<text transform="translate(253.85,257.37) rotate(0.05) scale(1.0,1.0)" font-size="6.45" font-family="Liberation Serif" text-anchor="middle" fill="#888888">2.44</text>
<rect x="181.10" y="257.99" width="20.60" height="5.85" fill="#f2f2f2"/>
<rect x="202.90" y="257.99" width="19.00" height="5.85" fill="#c2daf0"/>
<rect x="222.20" y="257.99" width="20.70" height="5.85" fill="#f2f2f2"/>
<rect x="243.40" y="257.99" width="20.50" height="5.85" fill="#f7cfb4"/>
<text transform="translate(191.60,262.62) rotate(0.05) scale(1.0,1.0)" font-size="6.45" font-family="Liberation Serif" text-anchor="middle" fill="#888888">0</text>
<text transform="translate(212.60,262.62) rotate(0.05) scale(1.0,1.0)" font-size="6.45" font-family="Liberation Serif" text-anchor="middle" fill="#888888">8.24</text>
<text transform="translate(232.75,262.62) rotate(0.05) scale(1.0,1.0)" font-size="6.45" font-family="Liberation Serif" text-anchor="middle" fill="#888888">0</text>
<text transform="translate(253.85,262.62) rotate(0.05) scale(1.0,1.0)" font-size="6.45" font-family="Liberation Serif" text-anchor="middle" fill="#888888">2.88</text>
<rect x="181.10" y="263.24" width="20.60" height="5.85" fill="#f2f2f2"/>
<rect x="202.90" y="263.24" width="19.00" height="5.85" fill="#bbd5ee"/>
<rect x="222.20" y="263.24" width="20.70" height="5.85" fill="#f2f2f2"/>
<rect x="243.40" y="263.24" width="20.50" height="5.85" fill="#f8d4bb"/>
<text transform="translate(191.60,267.86) rotate(0.05) scale(1.0,1.0)" font-size="6.45" font-family="Liberation Serif" text-anchor="middle" fill="#888888">0</text>
<text transform="translate(212.60,267.86) rotate(0.05) scale(1.0,1.0)" font-size="6.45" font-family="Liberation Serif" text-anchor="middle" fill="#888888">10.65</text>
<text transform="translate(232.75,267.86) rotate(0.05) scale(1.0,1.0)" font-size="6.45" font-family="Liberation Serif" text-anchor="middle" fill="#888888">0</text>
<text transform="translate(253.85,267.86) rotate(0.05) scale(1.0,1.0)" font-size="6.45" font-family="Liberation Serif" text-anchor="middle" fill="#888888">2.59</text>
<rect x="181.10" y="268.49" width="20.60" height="5.85" fill="#f2f2f2"/>
<rect x="202.90" y="268.49" width="19.00" height="5.85" fill="#a3c7e8"/>
<rect x="222.20" y="268.49" width="20.70" height="5.85" fill="#f2f2f2"/>
<rect x="243.40" y="268.49" width="20.50" height="5.85" fill="#f9dbc6"/>
<text transform="translate(191.60,273.11) rotate(0.05) scale(1.0,1.0)" font-size="6.45" font-family="Liberation Serif" text-anchor="middle" fill="#888888">0</text>
<text transform="translate(212.60,273.11) rotate(0.05) scale(1.0,1.0)" font-size="6.45" font-family="Liberation Serif" text-anchor="middle" fill="#888888">18.03</text>
<text transform="translate(232.75,273.11) rotate(0.05) scale(1.0,1.0)" font-size="6.45" font-family="Liberation Serif" text-anchor="middle" fill="#888888">0</text>
<text transform="translate(253.85,273.11) rotate(0.05) scale(1.0,1.0)" font-size="6.45" font-family="Liberation Serif" text-anchor="middle" fill="#888888">2.21</text>
<rect x="181.10" y="273.73" width="20.60" height="5.85" fill="#f2f2f2"/>
<rect x="202.90" y="273.73" width="19.00" height="5.85" fill="#9dc3e6"/>
<rect x="222.20" y="273.73" width="20.70" height="5.85" fill="#f2f2f2"/>
<rect x="243.40" y="273.73" width="20.50" height="5.85" fill="#fadecc"/>
<text transform="translate(191.60,278.35) rotate(0.05) scale(1.0,1.0)" font-size="6.45" font-family="Liberation Serif" text-anchor="middle" fill="#888888">0</text>
<text transform="translate(212.60,278.35) rotate(0.05) scale(1.0,1.0)" font-size="6.45" font-family="Liberation Serif" text-anchor="middle" fill="#888888">38.12</text>
<text transform="translate(232.75,278.35) rotate(0.05) scale(1.0,1.0)" font-size="6.45" font-family="Liberation Serif" text-anchor="middle" fill="#888888">0</text>
<text transform="translate(253.85,278.35) rotate(0.05) scale(1.0,1.0)" font-size="6.45" font-family="Liberation Serif" text-anchor="middle" fill="#888888">2.04</text>
<rect x="181.10" y="278.98" width="20.60" height="5.25" fill="#f2f2f2"/>
<rect x="202.90" y="278.98" width="19.00" height="5.25" fill="#9dc3e6"/>
<rect x="222.20" y="278.98" width="20.70" height="5.25" fill="#f2f2f2"/>
<rect x="243.40" y="278.98" width="20.50" height="5.25" fill="#f9dbc7"/>
<text transform="translate(191.60,283.60) rotate(0.05) scale(1.0,1.0)" font-size="6.45" font-family="Liberation Serif" text-anchor="middle" fill="#888888">0</text>
<text transform="translate(212.60,283.60) rotate(0.05) scale(1.0,1.0)" font-size="6.45" font-family="Liberation Serif" text-anchor="middle" fill="#888888">44.54</text>
<text transform="translate(232.75,283.60) rotate(0.05) scale(1.0,1.0)" font-size="6.45" font-family="Liberation Serif" text-anchor="middle" fill="#888888">0</text>
<text transform="translate(253.85,283.60) rotate(0.05) scale(1.0,1.0)" font-size="6.45" font-family="Liberation Serif" text-anchor="middle" fill="#888888">2.2</text>
<text transform="translate(179.60,31.10) rotate(0.05) scale(1.0,1.0)" font-size="6.6" font-family="Liberation Serif" text-anchor="end" fill="#000" stroke="#000" stroke-width="0.06">embryonic morphogenesis</text>
<text transform="translate(179.60,36.26) rotate(0.05) scale(1.0,1.0)" font-size="6.6" font-family="Liberation Serif" text-anchor="end" fill="#000" stroke="#000" stroke-width="0.06">embryonic organ development</text>
<text transform="translate(179.60,41.41) rotate(0.05) scale(1.0,1.0)" font-size="6.6" font-family="Liberation Serif" text-anchor="end" fill="#000" stroke="#000" stroke-width="0.06">regulation of apoptotic process involved in morphogenesis</text>
<text transform="translate(179.60,46.57) rotate(0.05) scale(1.0,1.0)" font-size="6.6" font-family="Liberation Serif" text-anchor="end" fill="#000" stroke="#000" stroke-width="0.06">mesoderm development</text>
<text transform="translate(179.60,51.73) rotate(0.05) scale(1.0,1.0)" font-size="6.6" font-family="Liberation Serif" text-anchor="end" fill="#000" stroke="#000" stroke-width="0.06">negative regulation of embryonic development</text>
<text transform="translate(179.60,56.89) rotate(0.05) scale(1.0,1.0)" font-size="6.6" font-family="Liberation Serif" text-anchor="end" fill="#000" stroke="#000" stroke-width="0.06">positive regulation of immunological synapse formation</text>
<text transform="translate(179.60,62.04) rotate(0.05) scale(1.0,1.0)" font-size="6.6" font-family="Liberation Serif" text-anchor="end" fill="#000" stroke="#000" stroke-width="0.06">lymphocyte migration into lymph node</text>
<text transform="translate(179.60,67.20) rotate(0.05) scale(1.0,1.0)" font-size="6.6" font-family="Liberation Serif" text-anchor="end" fill="#000" stroke="#000" stroke-width="0.06">B cell apoptotic process</text>
<text transform="translate(179.60,72.36) rotate(0.05) scale(1.0,1.0)" font-size="6.6" font-family="Liberation Serif" text-anchor="end" fill="#000" stroke="#000" stroke-width="0.06">lymphocyte apoptotic process</text>
<text transform="translate(179.60,77.51) rotate(0.05) scale(1.0,1.0)" font-size="6.6" font-family="Liberation Serif" text-anchor="end" fill="#000" stroke="#000" stroke-width="0.06">T cell apoptotic process</text>
<text transform="translate(179.60,82.67) rotate(0.05) scale(1.0,1.0)" font-size="6.6" font-family="Liberation Serif" text-anchor="end" fill="#000" stroke="#000" stroke-width="0.06">regulation of immunological synapse formation</text>
<text transform="translate(179.60,87.83) rotate(0.05) scale(1.0,1.0)" font-size="6.6" font-family="Liberation Serif" text-anchor="end" fill="#000" stroke="#000" stroke-width="0.06">positive regulation of B cell differentiation</text>
<text transform="translate(179.60,92.99) rotate(0.05) scale(1.0,1.0)" font-size="6.6" font-family="Liberation Serif" text-anchor="end" fill="#000" stroke="#000" stroke-width="0.06">regulation of NK T cell differentiation</text>
<text transform="translate(179.60,98.14) rotate(0.05) scale(1.0,1.0)" font-size="6.6" font-family="Liberation Serif" text-anchor="end" fill="#000" stroke="#000" stroke-width="0.06">regulation of hematopoietic progenitor cell differentiation</text>
<text transform="translate(179.60,103.30) rotate(0.05) scale(1.0,1.0)" font-size="6.6" font-family="Liberation Serif" text-anchor="end" fill="#000" stroke="#000" stroke-width="0.06">gamma-delta T cell differentiation</text>
<text transform="translate(179.60,108.46) rotate(0.05) scale(1.0,1.0)" font-size="6.6" font-family="Liberation Serif" text-anchor="end" fill="#000" stroke="#000" stroke-width="0.06">T cell homeostasis</text>
<text transform="translate(179.60,113.61) rotate(0.05) scale(1.0,1.0)" font-size="6.6" font-family="Liberation Serif" text-anchor="end" fill="#000" stroke="#000" stroke-width="0.06">myeloid cell homeostasis</text>
<text transform="translate(179.60,118.77) rotate(0.05) scale(1.0,1.0)" font-size="6.6" font-family="Liberation Serif" text-anchor="end" fill="#000" stroke="#000" stroke-width="0.06">lymph vessel development</text>
<text transform="translate(179.60,123.93) rotate(0.05) scale(1.0,1.0)" font-size="6.6" font-family="Liberation Serif" text-anchor="end" fill="#000" stroke="#000" stroke-width="0.06">negative regulation of B cell proliferation</text>
<text transform="translate(179.60,129.09) rotate(0.05) scale(1.0,1.0)" font-size="6.6" font-family="Liberation Serif" text-anchor="end" fill="#000" stroke="#000" stroke-width="0.06">regulation of B cell differentiation</text>
<text transform="translate(179.60,134.24) rotate(0.05) scale(1.0,1.0)" font-size="6.6" font-family="Liberation Serif" text-anchor="end" fill="#000" stroke="#000" stroke-width="0.06">B cell homeostasis</text>
<text transform="translate(179.60,139.40) rotate(0.05) scale(1.0,1.0)" font-size="6.6" font-family="Liberation Serif" text-anchor="end" fill="#000" stroke="#000" stroke-width="0.06">negative regulation of macrophage differentiation</text>
<text transform="translate(179.60,144.56) rotate(0.05) scale(1.0,1.0)" font-size="6.6" font-family="Liberation Serif" text-anchor="end" fill="#000" stroke="#000" stroke-width="0.06">negative regulation of potassium ion export</text>
<text transform="translate(179.60,149.71) rotate(0.05) scale(1.0,1.0)" font-size="6.6" font-family="Liberation Serif" text-anchor="end" fill="#000" stroke="#000" stroke-width="0.06">negative regulation of synapse maturation</text>
<text transform="translate(179.60,154.87) rotate(0.05) scale(1.0,1.0)" font-size="6.6" font-family="Liberation Serif" text-anchor="end" fill="#000" stroke="#000" stroke-width="0.06">negative regulation of Notch signaling pathway</text>
<text transform="translate(179.60,160.03) rotate(0.05) scale(1.0,1.0)" font-size="6.6" font-family="Liberation Serif" text-anchor="end" fill="#000" stroke="#000" stroke-width="0.06">negative regulation of lymph angiogenesis</text>
<text transform="translate(179.60,165.19) rotate(0.05) scale(1.0,1.0)" font-size="6.6" font-family="Liberation Serif" text-anchor="end" fill="#000" stroke="#000" stroke-width="0.06">positive regulation of T-helper 17 type immune response</text>
<text transform="translate(179.60,170.34) rotate(0.05) scale(1.0,1.0)" font-size="6.6" font-family="Liberation Serif" text-anchor="end" fill="#000" stroke="#000" stroke-width="0.06">regulation of dermatome development</text>
<text transform="translate(179.60,175.50) rotate(0.05) scale(1.0,1.0)" font-size="6.6" font-family="Liberation Serif" text-anchor="end" fill="#000" stroke="#000" stroke-width="0.06">regulation of gamma-delta T cell activation</text>
<text transform="translate(179.60,180.66) rotate(0.05) scale(1.0,1.0)" font-size="6.6" font-family="Liberation Serif" text-anchor="end" fill="#000" stroke="#000" stroke-width="0.06">metanephric comma-shaped body morphogenesis</text>
<text transform="translate(179.60,185.81) rotate(0.05) scale(1.0,1.0)" font-size="6.6" font-family="Liberation Serif" text-anchor="end" fill="#000" stroke="#000" stroke-width="0.06">regulation of gamma-delta T cell differentiation</text>
<text transform="translate(179.60,190.97) rotate(0.05) scale(1.0,1.0)" font-size="6.6" font-family="Liberation Serif" text-anchor="end" fill="#000" stroke="#000" stroke-width="0.06">regulation of neutrophil degranulation</text>
<text transform="translate(179.60,196.13) rotate(0.05) scale(1.0,1.0)" font-size="6.6" font-family="Liberation Serif" text-anchor="end" fill="#000" stroke="#000" stroke-width="0.06">regulation of T-helper 17 type immune response</text>
<text transform="translate(179.60,201.29) rotate(0.05) scale(1.0,1.0)" font-size="6.6" font-family="Liberation Serif" text-anchor="end" fill="#000" stroke="#000" stroke-width="0.06">negative regulation of interleukin-1-mediated signaling pathway</text>
<text transform="translate(179.60,206.44) rotate(0.05) scale(1.0,1.0)" font-size="6.6" font-family="Liberation Serif" text-anchor="end" fill="#000" stroke="#000" stroke-width="0.06">negative regulation in inflammatory response</text>
<text transform="translate(179.60,211.60) rotate(0.05) scale(1.0,1.0)" font-size="6.6" font-family="Liberation Serif" text-anchor="end" fill="#000" stroke="#000" stroke-width="0.06">negative regulation of phosphoprotein phosphatase activity</text>
<text transform="translate(179.60,216.76) rotate(0.05) scale(1.0,1.0)" font-size="6.6" font-family="Liberation Serif" text-anchor="end" fill="#000" stroke="#000" stroke-width="0.06">regulation of neutrophil activation</text>
<text transform="translate(179.60,221.91) rotate(0.05) scale(1.0,1.0)" font-size="6.6" font-family="Liberation Serif" text-anchor="end" fill="#000" stroke="#000" stroke-width="0.06">negative regulation of immunoglobulin mediated immune response</text>
<text transform="translate(179.60,227.07) rotate(0.05) scale(1.0,1.0)" font-size="6.6" font-family="Liberation Serif" text-anchor="end" fill="#000" stroke="#000" stroke-width="0.06">negative regulation of interferon-gamma secretion</text>
<text transform="translate(179.60,232.23) rotate(0.05) scale(1.0,1.0)" font-size="6.6" font-family="Liberation Serif" text-anchor="end" fill="#000" stroke="#000" stroke-width="0.06">immunoglobulin transcytosis</text>
<text transform="translate(179.60,237.39) rotate(0.05) scale(1.0,1.0)" font-size="6.6" font-family="Liberation Serif" text-anchor="end" fill="#000" stroke="#000" stroke-width="0.06">hepatic immune response</text>
<text transform="translate(179.60,242.54) rotate(0.05) scale(1.0,1.0)" font-size="6.6" font-family="Liberation Serif" text-anchor="end" fill="#000" stroke="#000" stroke-width="0.06">negative regulation by host of viral process</text>
<text transform="translate(179.60,247.70) rotate(0.05) scale(1.0,1.0)" font-size="6.6" font-family="Liberation Serif" text-anchor="end" fill="#000" stroke="#000" stroke-width="0.06">negative regulation of phospholipid metabolic process</text>
<text transform="translate(179.60,252.86) rotate(0.05) scale(1.0,1.0)" font-size="6.6" font-family="Liberation Serif" text-anchor="end" fill="#000" stroke="#000" stroke-width="0.06">negative regulation of cholesterol storage</text>
<text transform="translate(179.60,258.01) rotate(0.05) scale(1.0,1.0)" font-size="6.6" font-family="Liberation Serif" text-anchor="end" fill="#000" stroke="#000" stroke-width="0.06">negative regulation of serotonin uptake</text>
<text transform="translate(179.60,263.17) rotate(0.05) scale(1.0,1.0)" font-size="6.6" font-family="Liberation Serif" text-anchor="end" fill="#000" stroke="#000" stroke-width="0.06">negative regulation of triglyceride biosynthetic process</text>
<text transform="translate(179.60,268.33) rotate(0.05) scale(1.0,1.0)" font-size="6.6" font-family="Liberation Serif" text-anchor="end" fill="#000" stroke="#000" stroke-width="0.06">negative regulation of cell volume</text>
<text transform="translate(179.60,273.49) rotate(0.05) scale(1.0,1.0)" font-size="6.6" font-family="Liberation Serif" text-anchor="end" fill="#000" stroke="#000" stroke-width="0.06">lymphocyte chemotaxis</text>
<text transform="translate(179.60,278.64) rotate(0.05) scale(1.0,1.0)" font-size="6.6" font-family="Liberation Serif" text-anchor="end" fill="#000" stroke="#000" stroke-width="0.06">granulocyte chemotaxis</text>
<text transform="translate(179.60,283.80) rotate(0.05) scale(1.0,1.0)" font-size="6.6" font-family="Liberation Serif" text-anchor="end" fill="#000" stroke="#000" stroke-width="0.06">neutrophil migration</text>
<text x="101.40" y="320.70" font-size="8.0" font-family="Liberation Serif" text-anchor="start" fill="#000" stroke="#000" stroke-width="0.12">GO biological process</text>
<text x="186.60" y="320.60" font-size="8.1" font-family="Liberation Serif" text-anchor="start" fill="#000" stroke="#000" stroke-width="0.12">P value (-log10)</text>
<text x="245.60" y="320.60" font-size="8.0" font-family="Liberation Serif" text-anchor="start" fill="#000" stroke="#000" stroke-width="0.12">Enrichment</text>
<defs><linearGradient id="gb" x1="0" x2="1" y1="0" y2="0"><stop offset="0" stop-color="#5b9bd5"/><stop offset="1" stop-color="#e3eef9"/></linearGradient>
<linearGradient id="gb1" x1="0" x2="1" y1="0" y2="0"><stop offset="0" stop-color="#5b9bd5"/><stop offset="1" stop-color="#eef5fc"/></linearGradient></defs>
<text transform="translate(185.50,328.60) rotate(0.05) scale(1.0,1.06)" font-size="6.52" font-family="Liberation Serif" text-anchor="end" fill="#000" stroke="#000" stroke-width="0.05">anterior/posterior pattern specification</text>
<rect x="187.00" y="322.40" width="60.03" height="7.20" fill="url(#gb1)"/>
<text transform="translate(259.40,327.90) rotate(0.05) scale(1.0,1.0)" font-size="5.6" font-family="Liberation Serif" text-anchor="end" fill="#000" stroke="#000" stroke-width="0.12">4.14</text>
<rect x="260.50" y="321.85" width="22.60" height="8.89" fill="#fae6da"/>
<text transform="translate(271.80,327.90) rotate(0.05) scale(1.0,1.0)" font-size="5.6" font-family="Liberation Serif" text-anchor="middle" fill="#000" stroke="#000" stroke-width="0.12">9.94</text>
<text transform="translate(185.50,336.89) rotate(0.05) scale(1.0,1.06)" font-size="6.52" font-family="Liberation Serif" text-anchor="end" fill="#000" stroke="#000" stroke-width="0.05">regulation of transcription from RNA polymerase II promoter</text>
<rect x="187.00" y="330.69" width="36.39" height="7.20" fill="url(#gb)"/>
<text transform="translate(259.40,336.19) rotate(0.05) scale(1.0,1.0)" font-size="5.6" font-family="Liberation Serif" text-anchor="end" fill="#000" stroke="#000" stroke-width="0.12">2.51</text>
<rect x="260.50" y="330.15" width="22.60" height="8.89" fill="#fae6da"/>
<text transform="translate(271.80,336.19) rotate(0.05) scale(1.0,1.0)" font-size="5.6" font-family="Liberation Serif" text-anchor="middle" fill="#000" stroke="#000" stroke-width="0.12">1.91</text>
<text transform="translate(185.50,345.19) rotate(0.05) scale(1.0,1.06)" font-size="6.52" font-family="Liberation Serif" text-anchor="end" fill="#000" stroke="#000" stroke-width="0.05">embryonic skeletal system morphogenesis</text>
<rect x="187.00" y="338.99" width="34.51" height="7.20" fill="url(#gb)"/>
<text transform="translate(259.40,344.49) rotate(0.05) scale(1.0,1.0)" font-size="5.6" font-family="Liberation Serif" text-anchor="end" fill="#000" stroke="#000" stroke-width="0.12">2.38</text>
<rect x="260.50" y="338.44" width="22.60" height="8.89" fill="#fae6da"/>
<text transform="translate(271.80,344.49) rotate(0.05) scale(1.0,1.0)" font-size="5.6" font-family="Liberation Serif" text-anchor="middle" fill="#000" stroke="#000" stroke-width="0.12">12.26</text>
<text transform="translate(185.50,353.48) rotate(0.05) scale(1.0,1.06)" font-size="6.52" font-family="Liberation Serif" text-anchor="end" fill="#000" stroke="#000" stroke-width="0.05">mammary gland development</text>
<rect x="187.00" y="347.28" width="28.27" height="7.20" fill="url(#gb)"/>
<text transform="translate(259.40,352.78) rotate(0.05) scale(1.0,1.0)" font-size="5.6" font-family="Liberation Serif" text-anchor="end" fill="#000" stroke="#000" stroke-width="0.12">1.95</text>
<rect x="260.50" y="346.73" width="22.60" height="8.89" fill="#f6d3bb"/>
<text transform="translate(271.80,352.78) rotate(0.05) scale(1.0,1.0)" font-size="5.6" font-family="Liberation Serif" text-anchor="middle" fill="#000" stroke="#000" stroke-width="0.12">18.4</text>
<text transform="translate(185.50,361.78) rotate(0.05) scale(1.0,1.06)" font-size="6.52" font-family="Liberation Serif" text-anchor="end" fill="#000" stroke="#000" stroke-width="0.05">chemokine-mediated signaling pathway</text>
<rect x="187.00" y="355.57" width="26.54" height="7.20" fill="url(#gb)"/>
<text transform="translate(259.40,361.07) rotate(0.05) scale(1.0,1.0)" font-size="5.6" font-family="Liberation Serif" text-anchor="end" fill="#000" stroke="#000" stroke-width="0.12">1.83</text>
<rect x="260.50" y="355.03" width="22.60" height="8.89" fill="#fae6da"/>
<text transform="translate(271.80,361.07) rotate(0.05) scale(1.0,1.0)" font-size="5.6" font-family="Liberation Serif" text-anchor="middle" fill="#000" stroke="#000" stroke-width="0.12">7.71</text>
<text transform="translate(185.50,370.07) rotate(0.05) scale(1.0,1.06)" font-size="6.52" font-family="Liberation Serif" text-anchor="end" fill="#000" stroke="#000" stroke-width="0.05">cell chemotaxis</text>
<rect x="187.00" y="363.87" width="26.25" height="7.20" fill="url(#gb)"/>
<text transform="translate(259.40,369.37) rotate(0.05) scale(1.0,1.0)" font-size="5.6" font-family="Liberation Serif" text-anchor="end" fill="#000" stroke="#000" stroke-width="0.12">1.81</text>
<rect x="260.50" y="363.32" width="22.60" height="8.89" fill="#fae6da"/>
<text transform="translate(271.80,369.37) rotate(0.05) scale(1.0,1.0)" font-size="5.6" font-family="Liberation Serif" text-anchor="middle" fill="#000" stroke="#000" stroke-width="0.12">7.6</text>
<text transform="translate(185.50,378.36) rotate(0.05) scale(1.0,1.06)" font-size="6.52" font-family="Liberation Serif" text-anchor="end" fill="#000" stroke="#000" stroke-width="0.05">negative regulation of JNK cascade</text>
<rect x="187.00" y="372.16" width="25.38" height="7.20" fill="url(#gb)"/>
<text transform="translate(259.40,377.66) rotate(0.05) scale(1.0,1.0)" font-size="5.6" font-family="Liberation Serif" text-anchor="end" fill="#000" stroke="#000" stroke-width="0.12">1.75</text>
<rect x="260.50" y="371.62" width="22.60" height="8.89" fill="#f6d3bb"/>
<text transform="translate(271.80,377.66) rotate(0.05) scale(1.0,1.0)" font-size="5.6" font-family="Liberation Serif" text-anchor="middle" fill="#000" stroke="#000" stroke-width="0.12">14.45</text>
<text transform="translate(185.50,386.66) rotate(0.05) scale(1.0,1.06)" font-size="6.52" font-family="Liberation Serif" text-anchor="end" fill="#000" stroke="#000" stroke-width="0.05">spleen development</text>
<rect x="187.00" y="380.46" width="23.05" height="7.20" fill="url(#gb)"/>
<text transform="translate(259.40,385.96) rotate(0.05) scale(1.0,1.0)" font-size="5.6" font-family="Liberation Serif" text-anchor="end" fill="#000" stroke="#000" stroke-width="0.12">1.59</text>
<rect x="260.50" y="379.91" width="22.60" height="8.89" fill="#fae6da"/>
<text transform="translate(271.80,385.96) rotate(0.05) scale(1.0,1.0)" font-size="5.6" font-family="Liberation Serif" text-anchor="middle" fill="#000" stroke="#000" stroke-width="0.12">11.9</text>
<text transform="translate(185.50,394.95) rotate(0.05) scale(1.0,1.06)" font-size="6.52" font-family="Liberation Serif" text-anchor="end" fill="#000" stroke="#000" stroke-width="0.05">positive regulation of cytosolic calcium ion concentration</text>
<rect x="187.00" y="388.75" width="22.62" height="7.20" fill="url(#gb)"/>
<text transform="translate(259.40,394.25) rotate(0.05) scale(1.0,1.0)" font-size="5.6" font-family="Liberation Serif" text-anchor="end" fill="#000" stroke="#000" stroke-width="0.12">1.56</text>
<rect x="260.50" y="388.20" width="22.60" height="8.89" fill="#fae6da"/>
<text transform="translate(271.80,394.25) rotate(0.05) scale(1.0,1.0)" font-size="5.6" font-family="Liberation Serif" text-anchor="middle" fill="#000" stroke="#000" stroke-width="0.12">4.35</text>
<text transform="translate(185.50,403.24) rotate(0.05) scale(1.0,1.06)" font-size="6.52" font-family="Liberation Serif" text-anchor="end" fill="#000" stroke="#000" stroke-width="0.05">cellular response to interleukin-1</text>
<rect x="187.00" y="397.04" width="22.48" height="7.20" fill="url(#gb)"/>
<text transform="translate(259.40,402.54) rotate(0.05) scale(1.0,1.0)" font-size="5.6" font-family="Liberation Serif" text-anchor="end" fill="#000" stroke="#000" stroke-width="0.12">1.55</text>
<rect x="260.50" y="396.50" width="22.60" height="8.89" fill="#fae6da"/>
<text transform="translate(271.80,402.54) rotate(0.05) scale(1.0,1.0)" font-size="5.6" font-family="Liberation Serif" text-anchor="middle" fill="#000" stroke="#000" stroke-width="0.12">6.06</text>
<text transform="translate(185.50,411.54) rotate(0.05) scale(1.0,1.06)" font-size="6.52" font-family="Liberation Serif" text-anchor="end" fill="#000" stroke="#000" stroke-width="0.05">positive regulation of transcription from RNA polymerase II promoter</text>
<rect x="187.00" y="405.34" width="22.48" height="7.20" fill="url(#gb)"/>
<text transform="translate(259.40,410.84) rotate(0.05) scale(1.0,1.0)" font-size="5.6" font-family="Liberation Serif" text-anchor="end" fill="#000" stroke="#000" stroke-width="0.12">1.55</text>
<rect x="260.50" y="404.79" width="22.60" height="8.89" fill="#fae6da"/>
<text transform="translate(271.80,410.84) rotate(0.05) scale(1.0,1.0)" font-size="5.6" font-family="Liberation Serif" text-anchor="middle" fill="#000" stroke="#000" stroke-width="0.12">1.82</text>
<text transform="translate(185.50,419.83) rotate(0.05) scale(1.0,1.06)" font-size="6.52" font-family="Liberation Serif" text-anchor="end" fill="#000" stroke="#000" stroke-width="0.05">post-embryonic animal organ morphogenesis</text>
<rect x="187.00" y="413.63" width="22.33" height="7.20" fill="url(#gb)"/>
<text transform="translate(259.40,419.13) rotate(0.05) scale(1.0,1.0)" font-size="5.6" font-family="Liberation Serif" text-anchor="end" fill="#000" stroke="#000" stroke-width="0.12">1.54</text>
<rect x="260.50" y="413.08" width="22.60" height="8.89" fill="#f1ae80"/>
<text transform="translate(271.80,419.13) rotate(0.05) scale(1.0,1.0)" font-size="5.6" font-family="Liberation Serif" text-anchor="middle" fill="#000" stroke="#000" stroke-width="0.12">67.45</text>
<text transform="translate(185.50,428.12) rotate(0.05) scale(1.0,1.06)" font-size="6.52" font-family="Liberation Serif" text-anchor="end" fill="#000" stroke="#000" stroke-width="0.05">inflammatory response</text>
<rect x="187.00" y="421.92" width="22.18" height="7.20" fill="url(#gb)"/>
<text transform="translate(259.40,427.42) rotate(0.05) scale(1.0,1.0)" font-size="5.6" font-family="Liberation Serif" text-anchor="end" fill="#000" stroke="#000" stroke-width="0.12">1.53</text>
<rect x="260.50" y="421.38" width="22.60" height="8.89" fill="#fae6da"/>
<text transform="translate(271.80,427.42) rotate(0.05) scale(1.0,1.0)" font-size="5.6" font-family="Liberation Serif" text-anchor="middle" fill="#000" stroke="#000" stroke-width="0.12">2.68</text>
<text transform="translate(185.50,436.42) rotate(0.05) scale(1.0,1.06)" font-size="6.52" font-family="Liberation Serif" text-anchor="end" fill="#000" stroke="#000" stroke-width="0.05">regulation of protein stability</text>
<rect x="187.00" y="430.22" width="22.04" height="7.20" fill="url(#gb)"/>
<text transform="translate(259.40,435.72) rotate(0.05) scale(1.0,1.0)" font-size="5.6" font-family="Liberation Serif" text-anchor="end" fill="#000" stroke="#000" stroke-width="0.12">1.52</text>
<rect x="260.50" y="429.67" width="22.60" height="8.89" fill="#fae6da"/>
<text transform="translate(271.80,435.72) rotate(0.05) scale(1.0,1.0)" font-size="5.6" font-family="Liberation Serif" text-anchor="middle" fill="#000" stroke="#000" stroke-width="0.12">5.87</text>
<text transform="translate(185.50,444.71) rotate(0.05) scale(1.0,1.06)" font-size="6.52" font-family="Liberation Serif" text-anchor="end" fill="#000" stroke="#000" stroke-width="0.05">collateral sprouting</text>
<rect x="187.00" y="438.51" width="19.72" height="7.20" fill="url(#gb)"/>
<text transform="translate(259.40,444.01) rotate(0.05) scale(1.0,1.0)" font-size="5.6" font-family="Liberation Serif" text-anchor="end" fill="#000" stroke="#000" stroke-width="0.12">1.36</text>
<rect x="260.50" y="437.97" width="22.60" height="8.89" fill="#f1ae80"/>
<text transform="translate(271.80,444.01) rotate(0.05) scale(1.0,1.0)" font-size="5.6" font-family="Liberation Serif" text-anchor="middle" fill="#000" stroke="#000" stroke-width="0.12">44.97</text>
<text transform="translate(185.50,453.01) rotate(0.05) scale(1.0,1.06)" font-size="6.52" font-family="Liberation Serif" text-anchor="end" fill="#000" stroke="#000" stroke-width="0.05">cellular response to DNA damage stimulus</text>
<rect x="187.00" y="446.81" width="19.14" height="7.20" fill="url(#gb)"/>
<text transform="translate(259.40,452.31) rotate(0.05) scale(1.0,1.0)" font-size="5.6" font-family="Liberation Serif" text-anchor="end" fill="#000" stroke="#000" stroke-width="0.12">1.32</text>
<rect x="260.50" y="446.26" width="22.60" height="8.89" fill="#fae6da"/>
<text transform="translate(271.80,452.31) rotate(0.05) scale(1.0,1.0)" font-size="5.6" font-family="Liberation Serif" text-anchor="middle" fill="#000" stroke="#000" stroke-width="0.12">3.03</text>
<text transform="translate(185.50,461.30) rotate(0.05) scale(1.0,1.06)" font-size="6.52" font-family="Liberation Serif" text-anchor="end" fill="#000" stroke="#000" stroke-width="0.05">negative regulation of transcription from RNA polymerase II promoter</text>
<rect x="187.00" y="455.10" width="19.00" height="7.20" fill="url(#gb)"/>
<text transform="translate(259.40,460.60) rotate(0.05) scale(1.0,1.0)" font-size="5.6" font-family="Liberation Serif" text-anchor="end" fill="#000" stroke="#000" stroke-width="0.12">1.31</text>
<rect x="260.50" y="454.55" width="22.60" height="8.29" fill="#fae6da"/>
<text transform="translate(271.80,460.60) rotate(0.05) scale(1.0,1.0)" font-size="5.6" font-family="Liberation Serif" text-anchor="middle" fill="#000" stroke="#000" stroke-width="0.12">1.84</text>
<rect x="310.70" y="11.30" width="371.00" height="263.40" fill="#ffffff"/>
<line x1="310.70" y1="39.05" x2="681.70" y2="39.05" stroke="#f3f3f3" stroke-width="0.8"/>
<line x1="310.70" y1="35.90" x2="681.70" y2="35.90" stroke="#f3f3f3" stroke-width="0.8"/>
<line x1="310.70" y1="32.75" x2="681.70" y2="32.75" stroke="#f3f3f3" stroke-width="0.8"/>
<line x1="310.70" y1="29.60" x2="681.70" y2="29.60" stroke="#f3f3f3" stroke-width="0.8"/>
<line x1="310.70" y1="45.35" x2="681.70" y2="45.35" stroke="#f3f3f3" stroke-width="0.8"/>
<line x1="310.70" y1="48.50" x2="681.70" y2="48.50" stroke="#f3f3f3" stroke-width="0.8"/>
<line x1="310.70" y1="51.65" x2="681.70" y2="51.65" stroke="#f3f3f3" stroke-width="0.8"/>
<line x1="310.70" y1="54.80" x2="681.70" y2="54.80" stroke="#f3f3f3" stroke-width="0.8"/>
<line x1="310.70" y1="57.95" x2="681.70" y2="57.95" stroke="#f3f3f3" stroke-width="0.8"/>
<line x1="310.70" y1="61.10" x2="681.70" y2="61.10" stroke="#f3f3f3" stroke-width="0.8"/>
<line x1="310.70" y1="64.25" x2="681.70" y2="64.25" stroke="#f3f3f3" stroke-width="0.8"/>
<line x1="310.70" y1="67.40" x2="681.70" y2="67.40" stroke="#f3f3f3" stroke-width="0.8"/>
<line x1="310.70" y1="70.55" x2="681.70" y2="70.55" stroke="#f3f3f3" stroke-width="0.8"/>
<line x1="310.70" y1="73.70" x2="681.70" y2="73.70" stroke="#f3f3f3" stroke-width="0.8"/>
<line x1="310.70" y1="76.85" x2="681.70" y2="76.85" stroke="#f3f3f3" stroke-width="0.8"/>
<line x1="310.70" y1="80.00" x2="681.70" y2="80.00" stroke="#f3f3f3" stroke-width="0.8"/>
<line x1="310.70" y1="83.15" x2="681.70" y2="83.15" stroke="#f3f3f3" stroke-width="0.8"/>
<line x1="310.70" y1="86.30" x2="681.70" y2="86.30" stroke="#f3f3f3" stroke-width="0.8"/>
<line x1="310.70" y1="89.45" x2="681.70" y2="89.45" stroke="#f3f3f3" stroke-width="0.8"/>
<line x1="310.70" y1="92.60" x2="681.70" y2="92.60" stroke="#f3f3f3" stroke-width="0.8"/>
<line x1="310.70" y1="95.75" x2="681.70" y2="95.75" stroke="#f3f3f3" stroke-width="0.8"/>
<line x1="310.70" y1="107.74" x2="681.70" y2="107.74" stroke="#f3f3f3" stroke-width="0.8"/>
<line x1="310.70" y1="116.68" x2="681.70" y2="116.68" stroke="#f3f3f3" stroke-width="0.8"/>
<line x1="310.70" y1="125.62" x2="681.70" y2="125.62" stroke="#f3f3f3" stroke-width="0.8"/>
<line x1="310.70" y1="134.56" x2="681.70" y2="134.56" stroke="#f3f3f3" stroke-width="0.8"/>
<line x1="310.70" y1="152.20" x2="681.70" y2="152.20" stroke="#f3f3f3" stroke-width="0.8"/>
<line x1="310.70" y1="160.90" x2="681.70" y2="160.90" stroke="#f3f3f3" stroke-width="0.8"/>
<line x1="310.70" y1="169.60" x2="681.70" y2="169.60" stroke="#f3f3f3" stroke-width="0.8"/>
<line x1="310.70" y1="178.30" x2="681.70" y2="178.30" stroke="#f3f3f3" stroke-width="0.8"/>
<line x1="310.70" y1="190.10" x2="681.70" y2="190.10" stroke="#f3f3f3" stroke-width="0.8"/>
<line x1="310.70" y1="193.20" x2="681.70" y2="193.20" stroke="#f3f3f3" stroke-width="0.8"/>
<line x1="310.70" y1="196.30" x2="681.70" y2="196.30" stroke="#f3f3f3" stroke-width="0.8"/>
<line x1="310.70" y1="199.40" x2="681.70" y2="199.40" stroke="#f3f3f3" stroke-width="0.8"/>
<line x1="310.70" y1="202.50" x2="681.70" y2="202.50" stroke="#f3f3f3" stroke-width="0.8"/>
<line x1="310.70" y1="205.60" x2="681.70" y2="205.60" stroke="#f3f3f3" stroke-width="0.8"/>
<line x1="310.70" y1="208.70" x2="681.70" y2="208.70" stroke="#f3f3f3" stroke-width="0.8"/>
<line x1="310.70" y1="211.80" x2="681.70" y2="211.80" stroke="#f3f3f3" stroke-width="0.8"/>
<line x1="310.70" y1="214.90" x2="681.70" y2="214.90" stroke="#f3f3f3" stroke-width="0.8"/>
<line x1="310.70" y1="218.00" x2="681.70" y2="218.00" stroke="#f3f3f3" stroke-width="0.8"/>
<line x1="310.70" y1="221.10" x2="681.70" y2="221.10" stroke="#f3f3f3" stroke-width="0.8"/>
<line x1="310.70" y1="224.20" x2="681.70" y2="224.20" stroke="#f3f3f3" stroke-width="0.8"/>
<line x1="310.70" y1="227.30" x2="681.70" y2="227.30" stroke="#f3f3f3" stroke-width="0.8"/>
<line x1="310.70" y1="230.40" x2="681.70" y2="230.40" stroke="#f3f3f3" stroke-width="0.8"/>
<line x1="310.70" y1="233.50" x2="681.70" y2="233.50" stroke="#f3f3f3" stroke-width="0.8"/>
<line x1="310.70" y1="236.60" x2="681.70" y2="236.60" stroke="#f3f3f3" stroke-width="0.8"/>
<line x1="310.70" y1="239.70" x2="681.70" y2="239.70" stroke="#f3f3f3" stroke-width="0.8"/>
<line x1="310.70" y1="246.10" x2="681.70" y2="246.10" stroke="#f3f3f3" stroke-width="0.8"/>
<line x1="310.70" y1="248.70" x2="681.70" y2="248.70" stroke="#f3f3f3" stroke-width="0.8"/>
<line x1="310.70" y1="251.30" x2="681.70" y2="251.30" stroke="#f3f3f3" stroke-width="0.8"/>
<line x1="310.70" y1="253.90" x2="681.70" y2="253.90" stroke="#f3f3f3" stroke-width="0.8"/>
<line x1="310.70" y1="256.50" x2="681.70" y2="256.50" stroke="#f3f3f3" stroke-width="0.8"/>
<line x1="310.70" y1="42.20" x2="681.70" y2="42.20" stroke="#dcdcdc" stroke-width="0.8"/>
<line x1="310.70" y1="75.30" x2="681.70" y2="75.30" stroke="#dcdcdc" stroke-width="0.8"/>
<line x1="310.70" y1="143.50" x2="681.70" y2="143.50" stroke="#dcdcdc" stroke-width="0.8"/>
<line x1="310.70" y1="212.50" x2="681.70" y2="212.50" stroke="#dcdcdc" stroke-width="0.8"/>
<line x1="310.70" y1="243.50" x2="681.70" y2="243.50" stroke="#dcdcdc" stroke-width="0.8"/>
<line x1="384.90" y1="11.30" x2="384.90" y2="274.70" stroke="#d8d8d8" stroke-width="0.8"/>
<line x1="459.10" y1="11.30" x2="459.10" y2="274.70" stroke="#d8d8d8" stroke-width="0.8"/>
<line x1="533.30" y1="11.30" x2="533.30" y2="274.70" stroke="#d8d8d8" stroke-width="0.8"/>
<line x1="607.50" y1="11.30" x2="607.50" y2="274.70" stroke="#d8d8d8" stroke-width="0.8"/>
<line x1="329.80" y1="74.20" x2="329.80" y2="96.20" stroke="#9e9e9e" stroke-width="1.25"/>
<line x1="329.80" y1="176.50" x2="329.80" y2="206.80" stroke="#9e9e9e" stroke-width="1.25"/>
<line x1="327.10" y1="74.20" x2="332.50" y2="74.20" stroke="#9e9e9e" stroke-width="1.4"/>
<line x1="327.10" y1="206.80" x2="332.50" y2="206.80" stroke="#9e9e9e" stroke-width="1.4"/>
<line x1="329.80" y1="56.70" x2="329.80" y2="72.50" stroke="#6e6e6e" stroke-width="1.3"/>
<line x1="329.80" y1="208.50" x2="329.80" y2="216.40" stroke="#6e6e6e" stroke-width="1.3"/>
<line x1="329.80" y1="221.00" x2="329.80" y2="225.00" stroke="#6e6e6e" stroke-width="1.3"/>
<rect x="329.05" y="231.10" width="1.50" height="1.80" fill="#6e6e6e"/>
<rect x="329.05" y="241.10" width="1.50" height="1.80" fill="#6e6e6e"/>
<rect x="325.43" y="96.20" width="8.75" height="80.30" fill="#e5e5e7"/>
<line x1="325.43" y1="116.50" x2="334.18" y2="116.50" stroke="#ec3b36" stroke-width="1.5"/>
<line x1="338.70" y1="78.00" x2="338.70" y2="96.20" stroke="#8cc3f0" stroke-width="1.25"/>
<line x1="338.70" y1="155.20" x2="338.70" y2="198.60" stroke="#8cc3f0" stroke-width="1.25"/>
<line x1="336.00" y1="78.00" x2="341.40" y2="78.00" stroke="#8cc3f0" stroke-width="1.4"/>
<line x1="336.00" y1="198.60" x2="341.40" y2="198.60" stroke="#8cc3f0" stroke-width="1.4"/>
<rect x="337.95" y="64.00" width="1.50" height="1.80" fill="#62aaee"/>
<line x1="338.70" y1="70.00" x2="338.70" y2="76.50" stroke="#62aaee" stroke-width="1.3"/>
<line x1="338.70" y1="200.00" x2="338.70" y2="216.40" stroke="#62aaee" stroke-width="1.3"/>
<rect x="337.95" y="222.90" width="1.50" height="1.80" fill="#62aaee"/>
<rect x="334.33" y="96.20" width="8.75" height="59.00" fill="#bedcea"/>
<line x1="334.33" y1="109.50" x2="343.08" y2="109.50" stroke="#ec3b36" stroke-width="1.5"/>
<line x1="347.60" y1="75.10" x2="347.60" y2="92.90" stroke="#5a7fd6" stroke-width="1.25"/>
<line x1="347.60" y1="144.50" x2="347.60" y2="198.60" stroke="#5a7fd6" stroke-width="1.25"/>
<line x1="344.90" y1="75.10" x2="350.30" y2="75.10" stroke="#5a7fd6" stroke-width="1.4"/>
<line x1="344.90" y1="198.60" x2="350.30" y2="198.60" stroke="#5a7fd6" stroke-width="1.4"/>
<line x1="347.60" y1="71.80" x2="347.60" y2="73.80" stroke="#3e62c8" stroke-width="1.3"/>
<line x1="347.60" y1="200.00" x2="347.60" y2="216.40" stroke="#3e62c8" stroke-width="1.3"/>
<rect x="343.23" y="92.90" width="8.75" height="51.60" fill="#6fa7dc"/>
<line x1="343.23" y1="97.70" x2="351.98" y2="97.70" stroke="#ec3b36" stroke-width="1.5"/>
<line x1="356.50" y1="74.20" x2="356.50" y2="96.20" stroke="#e6a0a0" stroke-width="1.25"/>
<line x1="356.50" y1="186.40" x2="356.50" y2="208.10" stroke="#e6a0a0" stroke-width="1.25"/>
<line x1="353.80" y1="74.20" x2="359.20" y2="74.20" stroke="#e6a0a0" stroke-width="1.4"/>
<line x1="353.80" y1="208.10" x2="359.20" y2="208.10" stroke="#e6a0a0" stroke-width="1.4"/>
<line x1="356.50" y1="57.70" x2="356.50" y2="72.50" stroke="#df8080" stroke-width="1.3"/>
<line x1="356.50" y1="210.00" x2="356.50" y2="225.00" stroke="#df8080" stroke-width="1.3"/>
<rect x="355.75" y="240.10" width="1.50" height="1.80" fill="#df8080"/>
<rect x="352.12" y="96.20" width="8.75" height="90.20" fill="#ecdbdb"/>
<line x1="352.12" y1="127.30" x2="360.88" y2="127.30" stroke="#ec3b36" stroke-width="1.5"/>
<line x1="365.40" y1="74.20" x2="365.40" y2="96.20" stroke="#d86666" stroke-width="1.25"/>
<line x1="365.40" y1="186.40" x2="365.40" y2="211.00" stroke="#d86666" stroke-width="1.25"/>
<line x1="362.70" y1="74.20" x2="368.10" y2="74.20" stroke="#d86666" stroke-width="1.4"/>
<line x1="362.70" y1="211.00" x2="368.10" y2="211.00" stroke="#d86666" stroke-width="1.4"/>
<rect x="364.65" y="64.00" width="1.50" height="1.80" fill="#d33d3d"/>
<line x1="365.40" y1="212.50" x2="365.40" y2="218.00" stroke="#d33d3d" stroke-width="1.3" stroke-dasharray="1.5 1.6"/>
<rect x="361.03" y="96.20" width="8.75" height="90.20" fill="#dfb2b2"/>
<line x1="361.03" y1="137.20" x2="369.78" y2="137.20" stroke="#ec3b36" stroke-width="1.5"/>
<line x1="403.90" y1="74.20" x2="403.90" y2="96.50" stroke="#9e9e9e" stroke-width="1.25"/>
<line x1="403.90" y1="175.10" x2="403.90" y2="205.70" stroke="#9e9e9e" stroke-width="1.25"/>
<line x1="401.20" y1="74.20" x2="406.60" y2="74.20" stroke="#9e9e9e" stroke-width="1.4"/>
<line x1="401.20" y1="205.70" x2="406.60" y2="205.70" stroke="#9e9e9e" stroke-width="1.4"/>
<line x1="403.90" y1="59.30" x2="403.90" y2="72.50" stroke="#6e6e6e" stroke-width="1.3"/>
<rect x="403.15" y="39.30" width="1.50" height="1.80" fill="#6e6e6e"/>
<line x1="403.90" y1="207.50" x2="403.90" y2="222.00" stroke="#6e6e6e" stroke-width="1.3"/>
<rect x="403.15" y="231.60" width="1.50" height="1.80" fill="#6e6e6e"/>
<rect x="403.15" y="240.10" width="1.50" height="1.80" fill="#6e6e6e"/>
<rect x="399.53" y="96.50" width="8.75" height="78.60" fill="#e5e5e7"/>
<line x1="399.53" y1="117.40" x2="408.28" y2="117.40" stroke="#ec3b36" stroke-width="1.5"/>
<line x1="412.80" y1="79.70" x2="412.80" y2="96.50" stroke="#8cc3f0" stroke-width="1.25"/>
<line x1="412.80" y1="155.80" x2="412.80" y2="198.30" stroke="#8cc3f0" stroke-width="1.25"/>
<line x1="410.10" y1="79.70" x2="415.50" y2="79.70" stroke="#8cc3f0" stroke-width="1.4"/>
<line x1="410.10" y1="198.30" x2="415.50" y2="198.30" stroke="#8cc3f0" stroke-width="1.4"/>
<line x1="412.80" y1="59.30" x2="412.80" y2="78.00" stroke="#62aaee" stroke-width="1.3"/>
<rect x="412.05" y="38.70" width="1.50" height="1.80" fill="#62aaee"/>
<line x1="412.80" y1="200.00" x2="412.80" y2="221.00" stroke="#62aaee" stroke-width="1.3"/>
<rect x="408.43" y="96.50" width="8.75" height="59.30" fill="#bedcea"/>
<line x1="408.43" y1="111.00" x2="417.18" y2="111.00" stroke="#ec3b36" stroke-width="1.5"/>
<line x1="421.70" y1="81.00" x2="421.70" y2="96.50" stroke="#5a7fd6" stroke-width="1.25"/>
<line x1="421.70" y1="157.70" x2="421.70" y2="198.30" stroke="#5a7fd6" stroke-width="1.25"/>
<line x1="419.00" y1="81.00" x2="424.40" y2="81.00" stroke="#5a7fd6" stroke-width="1.4"/>
<line x1="419.00" y1="198.30" x2="424.40" y2="198.30" stroke="#5a7fd6" stroke-width="1.4"/>
<rect x="420.95" y="60.80" width="1.50" height="1.80" fill="#3e62c8"/>
<line x1="421.70" y1="71.00" x2="421.70" y2="78.70" stroke="#3e62c8" stroke-width="1.3"/>
<line x1="421.70" y1="200.00" x2="421.70" y2="214.00" stroke="#3e62c8" stroke-width="1.3"/>
<rect x="417.33" y="96.50" width="8.75" height="61.20" fill="#6fa7dc"/>
<line x1="417.33" y1="114.50" x2="426.08" y2="114.50" stroke="#ec3b36" stroke-width="1.5"/>
<line x1="430.60" y1="74.20" x2="430.60" y2="96.50" stroke="#e6a0a0" stroke-width="1.25"/>
<line x1="430.60" y1="178.00" x2="430.60" y2="208.00" stroke="#e6a0a0" stroke-width="1.25"/>
<line x1="427.90" y1="74.20" x2="433.30" y2="74.20" stroke="#e6a0a0" stroke-width="1.4"/>
<line x1="427.90" y1="208.00" x2="433.30" y2="208.00" stroke="#e6a0a0" stroke-width="1.4"/>
<line x1="430.60" y1="61.30" x2="430.60" y2="72.50" stroke="#df8080" stroke-width="1.3"/>
<rect x="429.85" y="38.70" width="1.50" height="1.80" fill="#df8080"/>
<line x1="430.60" y1="209.50" x2="430.60" y2="222.00" stroke="#df8080" stroke-width="1.3"/>
<rect x="429.85" y="231.60" width="1.50" height="1.80" fill="#df8080"/>
<rect x="429.85" y="238.10" width="1.50" height="1.80" fill="#df8080"/>
<rect x="426.23" y="96.50" width="8.75" height="81.50" fill="#ecdbdb"/>
<line x1="426.23" y1="124.80" x2="434.98" y2="124.80" stroke="#ec3b36" stroke-width="1.5"/>
<line x1="439.50" y1="75.40" x2="439.50" y2="97.60" stroke="#d86666" stroke-width="1.25"/>
<line x1="439.50" y1="186.30" x2="439.50" y2="209.00" stroke="#d86666" stroke-width="1.25"/>
<line x1="436.80" y1="75.40" x2="442.20" y2="75.40" stroke="#d86666" stroke-width="1.4"/>
<line x1="436.80" y1="209.00" x2="442.20" y2="209.00" stroke="#d86666" stroke-width="1.4"/>
<line x1="439.50" y1="65.10" x2="439.50" y2="73.80" stroke="#d33d3d" stroke-width="1.3" stroke-dasharray="1.5 1.6"/>
<line x1="439.50" y1="210.50" x2="439.50" y2="223.00" stroke="#d33d3d" stroke-width="1.3" stroke-dasharray="1.5 1.6"/>
<rect x="435.13" y="97.60" width="8.75" height="88.70" fill="#dfb2b2"/>
<line x1="435.13" y1="133.20" x2="443.88" y2="133.20" stroke="#ec3b36" stroke-width="1.5"/>
<line x1="478.00" y1="68.00" x2="478.00" y2="94.50" stroke="#9e9e9e" stroke-width="1.25"/>
<line x1="478.00" y1="186.30" x2="478.00" y2="212.80" stroke="#9e9e9e" stroke-width="1.25"/>
<line x1="475.30" y1="68.00" x2="480.70" y2="68.00" stroke="#9e9e9e" stroke-width="1.4"/>
<line x1="475.30" y1="212.80" x2="480.70" y2="212.80" stroke="#9e9e9e" stroke-width="1.4"/>
<line x1="478.00" y1="55.10" x2="478.00" y2="66.50" stroke="#6e6e6e" stroke-width="1.3"/>
<rect x="477.25" y="39.10" width="1.50" height="1.80" fill="#6e6e6e"/>
<line x1="478.00" y1="214.50" x2="478.00" y2="244.20" stroke="#6e6e6e" stroke-width="1.3"/>
<rect x="473.62" y="94.50" width="8.75" height="91.80" fill="#e5e5e7"/>
<line x1="473.62" y1="120.40" x2="482.38" y2="120.40" stroke="#ec3b36" stroke-width="1.5"/>
<line x1="486.90" y1="70.60" x2="486.90" y2="97.40" stroke="#8cc3f0" stroke-width="1.25"/>
<line x1="486.90" y1="189.20" x2="486.90" y2="216.10" stroke="#8cc3f0" stroke-width="1.25"/>
<line x1="484.20" y1="70.60" x2="489.60" y2="70.60" stroke="#8cc3f0" stroke-width="1.4"/>
<line x1="484.20" y1="216.10" x2="489.60" y2="216.10" stroke="#8cc3f0" stroke-width="1.4"/>
<line x1="486.90" y1="55.10" x2="486.90" y2="69.00" stroke="#62aaee" stroke-width="1.3"/>
<line x1="486.90" y1="217.50" x2="486.90" y2="244.20" stroke="#62aaee" stroke-width="1.3"/>
<rect x="482.53" y="97.40" width="8.75" height="91.80" fill="#bedcea"/>
<line x1="482.53" y1="138.80" x2="491.28" y2="138.80" stroke="#ec3b36" stroke-width="1.5"/>
<line x1="495.80" y1="68.60" x2="495.80" y2="98.00" stroke="#5a7fd6" stroke-width="1.25"/>
<line x1="495.80" y1="193.30" x2="495.80" y2="223.80" stroke="#5a7fd6" stroke-width="1.25"/>
<line x1="493.10" y1="68.60" x2="498.50" y2="68.60" stroke="#5a7fd6" stroke-width="1.4"/>
<line x1="493.10" y1="223.80" x2="498.50" y2="223.80" stroke="#5a7fd6" stroke-width="1.4"/>
<line x1="495.80" y1="231.60" x2="495.80" y2="242.60" stroke="#3e62c8" stroke-width="1.3"/>
<rect x="491.43" y="98.00" width="8.75" height="95.30" fill="#6fa7dc"/>
<line x1="491.43" y1="148.40" x2="500.18" y2="148.40" stroke="#ec3b36" stroke-width="1.5"/>
<line x1="504.70" y1="67.00" x2="504.70" y2="92.20" stroke="#e6a0a0" stroke-width="1.25"/>
<line x1="504.70" y1="167.40" x2="504.70" y2="208.80" stroke="#e6a0a0" stroke-width="1.25"/>
<line x1="502.00" y1="67.00" x2="507.40" y2="67.00" stroke="#e6a0a0" stroke-width="1.4"/>
<line x1="502.00" y1="208.80" x2="507.40" y2="208.80" stroke="#e6a0a0" stroke-width="1.4"/>
<line x1="504.70" y1="54.50" x2="504.70" y2="65.50" stroke="#df8080" stroke-width="1.3"/>
<line x1="504.70" y1="210.50" x2="504.70" y2="244.20" stroke="#df8080" stroke-width="1.3"/>
<rect x="500.32" y="92.20" width="8.75" height="75.20" fill="#ecdbdb"/>
<line x1="500.32" y1="106.70" x2="509.07" y2="106.70" stroke="#ec3b36" stroke-width="1.5"/>
<line x1="513.60" y1="66.10" x2="513.60" y2="90.30" stroke="#d86666" stroke-width="1.25"/>
<line x1="513.60" y1="149.60" x2="513.60" y2="205.10" stroke="#d86666" stroke-width="1.25"/>
<line x1="510.90" y1="66.10" x2="516.30" y2="66.10" stroke="#d86666" stroke-width="1.4"/>
<line x1="510.90" y1="205.10" x2="516.30" y2="205.10" stroke="#d86666" stroke-width="1.4"/>
<line x1="513.60" y1="57.40" x2="513.60" y2="64.50" stroke="#d33d3d" stroke-width="1.3" stroke-dasharray="1.5 1.6"/>
<line x1="513.60" y1="206.50" x2="513.60" y2="223.30" stroke="#d33d3d" stroke-width="1.3" stroke-dasharray="1.5 1.6"/>
<rect x="512.85" y="236.50" width="1.50" height="1.80" fill="#d33d3d"/>
<rect x="509.23" y="90.30" width="8.75" height="59.30" fill="#dfb2b2"/>
<line x1="509.23" y1="97.10" x2="517.98" y2="97.10" stroke="#ec3b36" stroke-width="1.5"/>
<line x1="552.10" y1="60.30" x2="552.10" y2="94.50" stroke="#9e9e9e" stroke-width="1.25"/>
<line x1="552.10" y1="192.50" x2="552.10" y2="226.40" stroke="#9e9e9e" stroke-width="1.25"/>
<line x1="549.40" y1="60.30" x2="554.80" y2="60.30" stroke="#9e9e9e" stroke-width="1.4"/>
<line x1="549.40" y1="226.40" x2="554.80" y2="226.40" stroke="#9e9e9e" stroke-width="1.4"/>
<line x1="552.10" y1="50.60" x2="552.10" y2="58.80" stroke="#6e6e6e" stroke-width="1.3"/>
<rect x="551.35" y="39.40" width="1.50" height="1.80" fill="#6e6e6e"/>
<line x1="552.10" y1="228.00" x2="552.10" y2="246.10" stroke="#6e6e6e" stroke-width="1.3"/>
<rect x="547.73" y="94.50" width="8.75" height="98.00" fill="#e5e5e7"/>
<line x1="547.73" y1="143.60" x2="556.48" y2="143.60" stroke="#ec3b36" stroke-width="1.5"/>
<line x1="561.00" y1="63.60" x2="561.00" y2="98.00" stroke="#8cc3f0" stroke-width="1.25"/>
<line x1="561.00" y1="196.40" x2="561.00" y2="230.60" stroke="#8cc3f0" stroke-width="1.25"/>
<line x1="558.30" y1="63.60" x2="563.70" y2="63.60" stroke="#8cc3f0" stroke-width="1.4"/>
<line x1="558.30" y1="230.60" x2="563.70" y2="230.60" stroke="#8cc3f0" stroke-width="1.4"/>
<line x1="561.00" y1="50.60" x2="561.00" y2="58.40" stroke="#62aaee" stroke-width="1.3"/>
<rect x="560.25" y="39.40" width="1.50" height="1.80" fill="#62aaee"/>
<line x1="561.00" y1="232.00" x2="561.00" y2="246.10" stroke="#62aaee" stroke-width="1.3"/>
<rect x="556.62" y="98.00" width="8.75" height="98.40" fill="#bedcea"/>
<line x1="556.62" y1="165.10" x2="565.38" y2="165.10" stroke="#ec3b36" stroke-width="1.5"/>
<line x1="569.90" y1="77.70" x2="569.90" y2="123.80" stroke="#5a7fd6" stroke-width="1.25"/>
<line x1="569.90" y1="198.90" x2="569.90" y2="230.60" stroke="#5a7fd6" stroke-width="1.25"/>
<line x1="567.20" y1="77.70" x2="572.60" y2="77.70" stroke="#5a7fd6" stroke-width="1.4"/>
<line x1="567.20" y1="230.60" x2="572.60" y2="230.60" stroke="#5a7fd6" stroke-width="1.4"/>
<line x1="569.90" y1="232.00" x2="569.90" y2="246.50" stroke="#3e62c8" stroke-width="1.3"/>
<rect x="565.52" y="123.80" width="8.75" height="75.10" fill="#6fa7dc"/>
<line x1="565.52" y1="187.70" x2="574.27" y2="187.70" stroke="#ec3b36" stroke-width="1.5"/>
<line x1="578.80" y1="62.80" x2="578.80" y2="91.30" stroke="#e6a0a0" stroke-width="1.25"/>
<line x1="578.80" y1="185.80" x2="578.80" y2="216.10" stroke="#e6a0a0" stroke-width="1.25"/>
<line x1="576.10" y1="62.80" x2="581.50" y2="62.80" stroke="#e6a0a0" stroke-width="1.4"/>
<line x1="576.10" y1="216.10" x2="581.50" y2="216.10" stroke="#e6a0a0" stroke-width="1.4"/>
<line x1="578.80" y1="50.60" x2="578.80" y2="61.30" stroke="#df8080" stroke-width="1.3"/>
<rect x="578.05" y="39.40" width="1.50" height="1.80" fill="#df8080"/>
<line x1="578.80" y1="217.50" x2="578.80" y2="245.10" stroke="#df8080" stroke-width="1.3"/>
<rect x="574.42" y="91.30" width="8.75" height="94.50" fill="#ecdbdb"/>
<line x1="574.42" y1="103.80" x2="583.17" y2="103.80" stroke="#ec3b36" stroke-width="1.5"/>
<line x1="587.70" y1="57.00" x2="587.70" y2="85.50" stroke="#d86666" stroke-width="1.25"/>
<line x1="587.70" y1="139.00" x2="587.70" y2="208.40" stroke="#d86666" stroke-width="1.25"/>
<line x1="585.00" y1="57.00" x2="590.40" y2="57.00" stroke="#d86666" stroke-width="1.4"/>
<line x1="585.00" y1="208.40" x2="590.40" y2="208.40" stroke="#d86666" stroke-width="1.4"/>
<line x1="587.70" y1="50.60" x2="587.70" y2="55.50" stroke="#d33d3d" stroke-width="1.3" stroke-dasharray="1.5 1.6"/>
<line x1="587.70" y1="210.00" x2="587.70" y2="225.80" stroke="#d33d3d" stroke-width="1.3" stroke-dasharray="1.5 1.6"/>
<line x1="587.70" y1="236.40" x2="587.70" y2="242.20" stroke="#d33d3d" stroke-width="1.3" stroke-dasharray="1.5 1.6"/>
<rect x="583.32" y="85.50" width="8.75" height="53.50" fill="#dfb2b2"/>
<line x1="583.32" y1="93.20" x2="592.07" y2="93.20" stroke="#ec3b36" stroke-width="1.5"/>
<line x1="626.20" y1="71.90" x2="626.20" y2="96.50" stroke="#9e9e9e" stroke-width="1.25"/>
<line x1="626.20" y1="186.30" x2="626.20" y2="213.20" stroke="#9e9e9e" stroke-width="1.25"/>
<line x1="623.50" y1="71.90" x2="628.90" y2="71.90" stroke="#9e9e9e" stroke-width="1.4"/>
<line x1="623.50" y1="213.20" x2="628.90" y2="213.20" stroke="#9e9e9e" stroke-width="1.4"/>
<line x1="626.20" y1="45.80" x2="626.20" y2="70.40" stroke="#6e6e6e" stroke-width="1.3"/>
<rect x="625.45" y="38.90" width="1.50" height="1.80" fill="#6e6e6e"/>
<line x1="626.20" y1="215.00" x2="626.20" y2="236.40" stroke="#6e6e6e" stroke-width="1.3"/>
<rect x="625.45" y="240.90" width="1.50" height="1.80" fill="#6e6e6e"/>
<rect x="621.83" y="96.50" width="8.75" height="89.80" fill="#e5e5e7"/>
<line x1="621.83" y1="135.90" x2="630.58" y2="135.90" stroke="#ec3b36" stroke-width="1.5"/>
<line x1="635.10" y1="78.30" x2="635.10" y2="96.50" stroke="#8cc3f0" stroke-width="1.25"/>
<line x1="635.10" y1="182.90" x2="635.10" y2="206.00" stroke="#8cc3f0" stroke-width="1.25"/>
<line x1="632.40" y1="78.30" x2="637.80" y2="78.30" stroke="#8cc3f0" stroke-width="1.4"/>
<line x1="632.40" y1="206.00" x2="637.80" y2="206.00" stroke="#8cc3f0" stroke-width="1.4"/>
<line x1="635.10" y1="45.80" x2="635.10" y2="52.00" stroke="#62aaee" stroke-width="1.3"/>
<line x1="635.10" y1="54.00" x2="635.10" y2="76.80" stroke="#62aaee" stroke-width="1.3"/>
<rect x="634.35" y="39.10" width="1.50" height="1.80" fill="#62aaee"/>
<line x1="635.10" y1="207.50" x2="635.10" y2="236.00" stroke="#62aaee" stroke-width="1.3"/>
<rect x="634.35" y="240.90" width="1.50" height="1.80" fill="#62aaee"/>
<rect x="630.73" y="96.50" width="8.75" height="86.40" fill="#bedcea"/>
<line x1="630.73" y1="131.20" x2="639.48" y2="131.20" stroke="#ec3b36" stroke-width="1.5"/>
<line x1="644.00" y1="76.80" x2="644.00" y2="96.50" stroke="#5a7fd6" stroke-width="1.25"/>
<line x1="644.00" y1="186.70" x2="644.00" y2="208.00" stroke="#5a7fd6" stroke-width="1.25"/>
<line x1="641.30" y1="76.80" x2="646.70" y2="76.80" stroke="#5a7fd6" stroke-width="1.4"/>
<line x1="641.30" y1="208.00" x2="646.70" y2="208.00" stroke="#5a7fd6" stroke-width="1.4"/>
<line x1="644.00" y1="59.00" x2="644.00" y2="75.30" stroke="#3e62c8" stroke-width="1.3"/>
<line x1="644.00" y1="209.50" x2="644.00" y2="233.50" stroke="#3e62c8" stroke-width="1.3"/>
<rect x="639.62" y="96.50" width="8.75" height="90.20" fill="#6fa7dc"/>
<line x1="639.62" y1="131.20" x2="648.38" y2="131.20" stroke="#ec3b36" stroke-width="1.5"/>
<line x1="652.90" y1="70.00" x2="652.90" y2="97.00" stroke="#e6a0a0" stroke-width="1.25"/>
<line x1="652.90" y1="189.60" x2="652.90" y2="218.00" stroke="#e6a0a0" stroke-width="1.25"/>
<line x1="650.20" y1="70.00" x2="655.60" y2="70.00" stroke="#e6a0a0" stroke-width="1.4"/>
<line x1="650.20" y1="218.00" x2="655.60" y2="218.00" stroke="#e6a0a0" stroke-width="1.4"/>
<line x1="652.90" y1="45.80" x2="652.90" y2="68.50" stroke="#df8080" stroke-width="1.3"/>
<rect x="652.15" y="38.90" width="1.50" height="1.80" fill="#df8080"/>
<line x1="652.90" y1="219.50" x2="652.90" y2="233.50" stroke="#df8080" stroke-width="1.3"/>
<rect x="652.15" y="240.90" width="1.50" height="1.80" fill="#df8080"/>
<rect x="648.52" y="97.00" width="8.75" height="92.60" fill="#ecdbdb"/>
<line x1="648.52" y1="145.10" x2="657.27" y2="145.10" stroke="#ec3b36" stroke-width="1.5"/>
<line x1="661.80" y1="70.00" x2="661.80" y2="97.00" stroke="#d86666" stroke-width="1.25"/>
<line x1="661.80" y1="191.60" x2="661.80" y2="219.40" stroke="#d86666" stroke-width="1.25"/>
<line x1="659.10" y1="70.00" x2="664.50" y2="70.00" stroke="#d86666" stroke-width="1.4"/>
<line x1="659.10" y1="219.40" x2="664.50" y2="219.40" stroke="#d86666" stroke-width="1.4"/>
<line x1="661.80" y1="53.50" x2="661.80" y2="68.50" stroke="#d33d3d" stroke-width="1.3" stroke-dasharray="1.5 1.6"/>
<line x1="661.80" y1="221.00" x2="661.80" y2="227.70" stroke="#d33d3d" stroke-width="1.3" stroke-dasharray="1.5 1.6"/>
<rect x="657.42" y="97.00" width="8.75" height="94.60" fill="#dfb2b2"/>
<line x1="657.42" y1="155.40" x2="666.17" y2="155.40" stroke="#ec3b36" stroke-width="1.5"/>
<line x1="310.70" y1="98.80" x2="681.70" y2="98.80" stroke="#c99ce0" stroke-width="1.15" stroke-opacity="0.75"/>
<line x1="310.70" y1="187.00" x2="681.70" y2="187.00" stroke="#c99ce0" stroke-width="1.15" stroke-opacity="0.75"/>
<rect x="310.70" y="11.30" width="371.00" height="263.40" fill="none" stroke="#7a7a7a" stroke-width="1.3"/>
<rect x="320.50" y="316.50" width="362.80" height="138.30" fill="#ffffff"/>
<line x1="320.50" y1="328.10" x2="683.30" y2="328.10" stroke="#f3f3f3" stroke-width="0.8"/>
<line x1="320.50" y1="325.20" x2="683.30" y2="325.20" stroke="#f3f3f3" stroke-width="0.8"/>
<line x1="320.50" y1="322.30" x2="683.30" y2="322.30" stroke="#f3f3f3" stroke-width="0.8"/>
<line x1="320.50" y1="319.40" x2="683.30" y2="319.40" stroke="#f3f3f3" stroke-width="0.8"/>
<line x1="320.50" y1="333.90" x2="683.30" y2="333.90" stroke="#f3f3f3" stroke-width="0.8"/>
<line x1="320.50" y1="336.80" x2="683.30" y2="336.80" stroke="#f3f3f3" stroke-width="0.8"/>
<line x1="320.50" y1="339.70" x2="683.30" y2="339.70" stroke="#f3f3f3" stroke-width="0.8"/>
<line x1="320.50" y1="342.60" x2="683.30" y2="342.60" stroke="#f3f3f3" stroke-width="0.8"/>
<line x1="320.50" y1="345.50" x2="683.30" y2="345.50" stroke="#f3f3f3" stroke-width="0.8"/>
<line x1="320.50" y1="348.40" x2="683.30" y2="348.40" stroke="#f3f3f3" stroke-width="0.8"/>
<line x1="320.50" y1="351.30" x2="683.30" y2="351.30" stroke="#f3f3f3" stroke-width="0.8"/>
<line x1="320.50" y1="354.20" x2="683.30" y2="354.20" stroke="#f3f3f3" stroke-width="0.8"/>
<line x1="320.50" y1="357.10" x2="683.30" y2="357.10" stroke="#f3f3f3" stroke-width="0.8"/>
<line x1="320.50" y1="360.00" x2="683.30" y2="360.00" stroke="#f3f3f3" stroke-width="0.8"/>
<line x1="320.50" y1="366.98" x2="683.30" y2="366.98" stroke="#f3f3f3" stroke-width="0.8"/>
<line x1="320.50" y1="371.56" x2="683.30" y2="371.56" stroke="#f3f3f3" stroke-width="0.8"/>
<line x1="320.50" y1="376.14" x2="683.30" y2="376.14" stroke="#f3f3f3" stroke-width="0.8"/>
<line x1="320.50" y1="380.72" x2="683.30" y2="380.72" stroke="#f3f3f3" stroke-width="0.8"/>
<line x1="320.50" y1="389.88" x2="683.30" y2="389.88" stroke="#f3f3f3" stroke-width="0.8"/>
<line x1="320.50" y1="394.46" x2="683.30" y2="394.46" stroke="#f3f3f3" stroke-width="0.8"/>
<line x1="320.50" y1="399.04" x2="683.30" y2="399.04" stroke="#f3f3f3" stroke-width="0.8"/>
<line x1="320.50" y1="403.62" x2="683.30" y2="403.62" stroke="#f3f3f3" stroke-width="0.8"/>
<line x1="320.50" y1="411.10" x2="683.30" y2="411.10" stroke="#f3f3f3" stroke-width="0.8"/>
<line x1="320.50" y1="414.00" x2="683.30" y2="414.00" stroke="#f3f3f3" stroke-width="0.8"/>
<line x1="320.50" y1="416.90" x2="683.30" y2="416.90" stroke="#f3f3f3" stroke-width="0.8"/>
<line x1="320.50" y1="419.80" x2="683.30" y2="419.80" stroke="#f3f3f3" stroke-width="0.8"/>
<line x1="320.50" y1="422.70" x2="683.30" y2="422.70" stroke="#f3f3f3" stroke-width="0.8"/>
<line x1="320.50" y1="425.60" x2="683.30" y2="425.60" stroke="#f3f3f3" stroke-width="0.8"/>
<line x1="320.50" y1="428.50" x2="683.30" y2="428.50" stroke="#f3f3f3" stroke-width="0.8"/>
<line x1="320.50" y1="431.40" x2="683.30" y2="431.40" stroke="#f3f3f3" stroke-width="0.8"/>
<line x1="320.50" y1="434.30" x2="683.30" y2="434.30" stroke="#f3f3f3" stroke-width="0.8"/>
<line x1="320.50" y1="437.20" x2="683.30" y2="437.20" stroke="#f3f3f3" stroke-width="0.8"/>
<line x1="320.50" y1="440.10" x2="683.30" y2="440.10" stroke="#f3f3f3" stroke-width="0.8"/>
<line x1="320.50" y1="443.00" x2="683.30" y2="443.00" stroke="#f3f3f3" stroke-width="0.8"/>
<line x1="320.50" y1="331.00" x2="683.30" y2="331.00" stroke="#dcdcdc" stroke-width="0.8"/>
<line x1="320.50" y1="348.50" x2="683.30" y2="348.50" stroke="#dcdcdc" stroke-width="0.8"/>
<line x1="320.50" y1="385.30" x2="683.30" y2="385.30" stroke="#dcdcdc" stroke-width="0.8"/>
<line x1="320.50" y1="422.10" x2="683.30" y2="422.10" stroke="#dcdcdc" stroke-width="0.8"/>
<line x1="320.50" y1="438.20" x2="683.30" y2="438.20" stroke="#dcdcdc" stroke-width="0.8"/>
<line x1="393.06" y1="316.50" x2="393.06" y2="454.80" stroke="#d8d8d8" stroke-width="0.8"/>
<line x1="465.62" y1="316.50" x2="465.62" y2="454.80" stroke="#d8d8d8" stroke-width="0.8"/>
<line x1="538.18" y1="316.50" x2="538.18" y2="454.80" stroke="#d8d8d8" stroke-width="0.8"/>
<line x1="610.74" y1="316.50" x2="610.74" y2="454.80" stroke="#d8d8d8" stroke-width="0.8"/>
<line x1="339.20" y1="348.60" x2="339.20" y2="362.20" stroke="#9e9e9e" stroke-width="1.25"/>
<line x1="339.20" y1="403.60" x2="339.20" y2="419.10" stroke="#9e9e9e" stroke-width="1.25"/>
<line x1="336.50" y1="348.60" x2="341.90" y2="348.60" stroke="#9e9e9e" stroke-width="1.4"/>
<line x1="336.50" y1="419.10" x2="341.90" y2="419.10" stroke="#9e9e9e" stroke-width="1.4"/>
<line x1="339.20" y1="339.30" x2="339.20" y2="347.00" stroke="#6e6e6e" stroke-width="1.3"/>
<line x1="339.20" y1="420.50" x2="339.20" y2="428.50" stroke="#6e6e6e" stroke-width="1.3"/>
<rect x="338.45" y="431.60" width="1.50" height="1.80" fill="#6e6e6e"/>
<rect x="338.45" y="436.30" width="1.50" height="1.80" fill="#6e6e6e"/>
<rect x="335.00" y="362.20" width="8.40" height="41.40" fill="#e5e5e7"/>
<line x1="335.00" y1="372.80" x2="343.40" y2="372.80" stroke="#ec3b36" stroke-width="1.5"/>
<line x1="347.90" y1="348.60" x2="347.90" y2="360.20" stroke="#8cc3f0" stroke-width="1.25"/>
<line x1="347.90" y1="396.80" x2="347.90" y2="417.40" stroke="#8cc3f0" stroke-width="1.25"/>
<line x1="345.20" y1="348.60" x2="350.60" y2="348.60" stroke="#8cc3f0" stroke-width="1.4"/>
<line x1="345.20" y1="417.40" x2="350.60" y2="417.40" stroke="#8cc3f0" stroke-width="1.4"/>
<rect x="347.15" y="338.40" width="1.50" height="1.80" fill="#62aaee"/>
<line x1="347.90" y1="419.00" x2="347.90" y2="423.60" stroke="#62aaee" stroke-width="1.3"/>
<rect x="347.15" y="435.60" width="1.50" height="1.80" fill="#62aaee"/>
<rect x="343.70" y="360.20" width="8.40" height="36.60" fill="#bedcea"/>
<line x1="343.70" y1="368.00" x2="352.10" y2="368.00" stroke="#ec3b36" stroke-width="1.5"/>
<line x1="356.60" y1="351.30" x2="356.60" y2="359.30" stroke="#5a7fd6" stroke-width="1.25"/>
<line x1="356.60" y1="396.80" x2="356.60" y2="417.00" stroke="#5a7fd6" stroke-width="1.25"/>
<line x1="353.90" y1="351.30" x2="359.30" y2="351.30" stroke="#5a7fd6" stroke-width="1.4"/>
<line x1="353.90" y1="417.00" x2="359.30" y2="417.00" stroke="#5a7fd6" stroke-width="1.4"/>
<rect x="355.85" y="338.40" width="1.50" height="1.80" fill="#3e62c8"/>
<line x1="356.60" y1="418.50" x2="356.60" y2="421.10" stroke="#3e62c8" stroke-width="1.3"/>
<rect x="352.40" y="359.30" width="8.40" height="37.50" fill="#6fa7dc"/>
<line x1="352.40" y1="366.00" x2="360.80" y2="366.00" stroke="#ec3b36" stroke-width="1.5"/>
<line x1="365.30" y1="348.60" x2="365.30" y2="362.20" stroke="#e6a0a0" stroke-width="1.25"/>
<line x1="365.30" y1="407.80" x2="365.30" y2="419.10" stroke="#e6a0a0" stroke-width="1.25"/>
<line x1="362.60" y1="348.60" x2="368.00" y2="348.60" stroke="#e6a0a0" stroke-width="1.4"/>
<line x1="362.60" y1="419.10" x2="368.00" y2="419.10" stroke="#e6a0a0" stroke-width="1.4"/>
<rect x="364.55" y="342.30" width="1.50" height="1.80" fill="#df8080"/>
<line x1="365.30" y1="420.50" x2="365.30" y2="425.20" stroke="#df8080" stroke-width="1.3"/>
<rect x="361.10" y="362.20" width="8.40" height="45.60" fill="#ecdbdb"/>
<line x1="361.10" y1="376.50" x2="369.50" y2="376.50" stroke="#ec3b36" stroke-width="1.5"/>
<line x1="374.00" y1="352.00" x2="374.00" y2="362.20" stroke="#d86666" stroke-width="1.25"/>
<line x1="374.00" y1="407.80" x2="374.00" y2="419.10" stroke="#d86666" stroke-width="1.25"/>
<line x1="371.30" y1="352.00" x2="376.70" y2="352.00" stroke="#d86666" stroke-width="1.4"/>
<line x1="371.30" y1="419.10" x2="376.70" y2="419.10" stroke="#d86666" stroke-width="1.4"/>
<rect x="373.25" y="428.40" width="1.50" height="1.80" fill="#d33d3d"/>
<rect x="369.80" y="362.20" width="8.40" height="45.60" fill="#dfb2b2"/>
<line x1="369.80" y1="379.40" x2="378.20" y2="379.40" stroke="#ec3b36" stroke-width="1.5"/>
<line x1="411.65" y1="349.40" x2="411.65" y2="362.20" stroke="#9e9e9e" stroke-width="1.25"/>
<line x1="411.65" y1="403.50" x2="411.65" y2="419.50" stroke="#9e9e9e" stroke-width="1.25"/>
<line x1="408.95" y1="349.40" x2="414.35" y2="349.40" stroke="#9e9e9e" stroke-width="1.4"/>
<line x1="408.95" y1="419.50" x2="414.35" y2="419.50" stroke="#9e9e9e" stroke-width="1.4"/>
<line x1="411.65" y1="341.30" x2="411.65" y2="348.00" stroke="#6e6e6e" stroke-width="1.3"/>
<rect x="410.90" y="328.20" width="1.50" height="1.80" fill="#6e6e6e"/>
<line x1="411.65" y1="421.00" x2="411.65" y2="428.10" stroke="#6e6e6e" stroke-width="1.3"/>
<rect x="410.90" y="431.90" width="1.50" height="1.80" fill="#6e6e6e"/>
<rect x="410.90" y="436.30" width="1.50" height="1.80" fill="#6e6e6e"/>
<rect x="407.45" y="362.20" width="8.40" height="41.30" fill="#e5e5e7"/>
<line x1="407.45" y1="373.60" x2="415.85" y2="373.60" stroke="#ec3b36" stroke-width="1.5"/>
<line x1="420.35" y1="350.40" x2="420.35" y2="361.60" stroke="#8cc3f0" stroke-width="1.25"/>
<line x1="420.35" y1="401.80" x2="420.35" y2="418.10" stroke="#8cc3f0" stroke-width="1.25"/>
<line x1="417.65" y1="350.40" x2="423.05" y2="350.40" stroke="#8cc3f0" stroke-width="1.4"/>
<line x1="417.65" y1="418.10" x2="423.05" y2="418.10" stroke="#8cc3f0" stroke-width="1.4"/>
<rect x="419.60" y="343.90" width="1.50" height="1.80" fill="#62aaee"/>
<line x1="420.35" y1="419.50" x2="420.35" y2="421.60" stroke="#62aaee" stroke-width="1.3"/>
<rect x="416.15" y="361.60" width="8.40" height="40.20" fill="#bedcea"/>
<line x1="416.15" y1="372.80" x2="424.55" y2="372.80" stroke="#ec3b36" stroke-width="1.5"/>
<line x1="429.05" y1="349.40" x2="429.05" y2="360.20" stroke="#5a7fd6" stroke-width="1.25"/>
<line x1="429.05" y1="402.30" x2="429.05" y2="418.10" stroke="#5a7fd6" stroke-width="1.25"/>
<line x1="426.35" y1="349.40" x2="431.75" y2="349.40" stroke="#5a7fd6" stroke-width="1.4"/>
<line x1="426.35" y1="418.10" x2="431.75" y2="418.10" stroke="#5a7fd6" stroke-width="1.4"/>
<rect x="428.30" y="343.90" width="1.50" height="1.80" fill="#3e62c8"/>
<line x1="429.05" y1="419.50" x2="429.05" y2="424.70" stroke="#3e62c8" stroke-width="1.3"/>
<rect x="424.85" y="360.20" width="8.40" height="42.10" fill="#6fa7dc"/>
<line x1="424.85" y1="369.90" x2="433.25" y2="369.90" stroke="#ec3b36" stroke-width="1.5"/>
<line x1="437.75" y1="349.00" x2="437.75" y2="362.20" stroke="#e6a0a0" stroke-width="1.25"/>
<line x1="437.75" y1="406.60" x2="437.75" y2="420.40" stroke="#e6a0a0" stroke-width="1.25"/>
<line x1="435.05" y1="349.00" x2="440.45" y2="349.00" stroke="#e6a0a0" stroke-width="1.4"/>
<line x1="435.05" y1="420.40" x2="440.45" y2="420.40" stroke="#e6a0a0" stroke-width="1.4"/>
<line x1="437.75" y1="342.80" x2="437.75" y2="347.50" stroke="#df8080" stroke-width="1.3"/>
<line x1="437.75" y1="422.00" x2="437.75" y2="426.40" stroke="#df8080" stroke-width="1.3"/>
<rect x="433.55" y="362.20" width="8.40" height="44.40" fill="#ecdbdb"/>
<line x1="433.55" y1="375.50" x2="441.95" y2="375.50" stroke="#ec3b36" stroke-width="1.5"/>
<line x1="446.45" y1="349.00" x2="446.45" y2="361.20" stroke="#d86666" stroke-width="1.25"/>
<line x1="446.45" y1="407.50" x2="446.45" y2="419.50" stroke="#d86666" stroke-width="1.25"/>
<line x1="443.75" y1="349.00" x2="449.15" y2="349.00" stroke="#d86666" stroke-width="1.4"/>
<line x1="443.75" y1="419.50" x2="449.15" y2="419.50" stroke="#d86666" stroke-width="1.4"/>
<rect x="445.70" y="422.90" width="1.50" height="1.80" fill="#d33d3d"/>
<rect x="442.25" y="361.20" width="8.40" height="46.30" fill="#dfb2b2"/>
<line x1="442.25" y1="380.30" x2="450.65" y2="380.30" stroke="#ec3b36" stroke-width="1.5"/>
<line x1="484.10" y1="345.10" x2="484.10" y2="359.70" stroke="#9e9e9e" stroke-width="1.25"/>
<line x1="484.10" y1="406.60" x2="484.10" y2="421.60" stroke="#9e9e9e" stroke-width="1.25"/>
<line x1="481.40" y1="345.10" x2="486.80" y2="345.10" stroke="#9e9e9e" stroke-width="1.4"/>
<line x1="481.40" y1="421.60" x2="486.80" y2="421.60" stroke="#9e9e9e" stroke-width="1.4"/>
<line x1="484.10" y1="339.30" x2="484.10" y2="343.50" stroke="#6e6e6e" stroke-width="1.3"/>
<line x1="484.10" y1="423.00" x2="484.10" y2="439.30" stroke="#6e6e6e" stroke-width="1.3"/>
<rect x="479.90" y="359.70" width="8.40" height="46.90" fill="#e5e5e7"/>
<line x1="479.90" y1="370.30" x2="488.30" y2="370.30" stroke="#ec3b36" stroke-width="1.5"/>
<line x1="492.80" y1="345.50" x2="492.80" y2="359.70" stroke="#8cc3f0" stroke-width="1.25"/>
<line x1="492.80" y1="408.40" x2="492.80" y2="423.30" stroke="#8cc3f0" stroke-width="1.25"/>
<line x1="490.10" y1="345.50" x2="495.50" y2="345.50" stroke="#8cc3f0" stroke-width="1.4"/>
<line x1="490.10" y1="423.30" x2="495.50" y2="423.30" stroke="#8cc3f0" stroke-width="1.4"/>
<rect x="492.05" y="338.40" width="1.50" height="1.80" fill="#62aaee"/>
<line x1="492.80" y1="424.80" x2="492.80" y2="429.00" stroke="#62aaee" stroke-width="1.3"/>
<rect x="492.05" y="434.90" width="1.50" height="1.80" fill="#62aaee"/>
<rect x="488.60" y="359.70" width="8.40" height="48.70" fill="#bedcea"/>
<line x1="488.60" y1="375.50" x2="497.00" y2="375.50" stroke="#ec3b36" stroke-width="1.5"/>
<line x1="501.50" y1="346.10" x2="501.50" y2="360.60" stroke="#5a7fd6" stroke-width="1.25"/>
<line x1="501.50" y1="408.40" x2="501.50" y2="420.70" stroke="#5a7fd6" stroke-width="1.25"/>
<line x1="498.80" y1="346.10" x2="504.20" y2="346.10" stroke="#5a7fd6" stroke-width="1.4"/>
<line x1="498.80" y1="420.70" x2="504.20" y2="420.70" stroke="#5a7fd6" stroke-width="1.4"/>
<line x1="501.50" y1="422.20" x2="501.50" y2="427.30" stroke="#3e62c8" stroke-width="1.3"/>
<rect x="500.75" y="435.10" width="1.50" height="1.80" fill="#3e62c8"/>
<rect x="497.30" y="360.60" width="8.40" height="47.80" fill="#6fa7dc"/>
<line x1="497.30" y1="370.70" x2="505.70" y2="370.70" stroke="#ec3b36" stroke-width="1.5"/>
<line x1="510.20" y1="344.80" x2="510.20" y2="359.30" stroke="#e6a0a0" stroke-width="1.25"/>
<line x1="510.20" y1="401.80" x2="510.20" y2="421.60" stroke="#e6a0a0" stroke-width="1.25"/>
<line x1="507.50" y1="344.80" x2="512.90" y2="344.80" stroke="#e6a0a0" stroke-width="1.4"/>
<line x1="507.50" y1="421.60" x2="512.90" y2="421.60" stroke="#e6a0a0" stroke-width="1.4"/>
<rect x="509.45" y="338.40" width="1.50" height="1.80" fill="#df8080"/>
<rect x="509.45" y="435.10" width="1.50" height="1.80" fill="#df8080"/>
<rect x="506.00" y="359.30" width="8.40" height="42.50" fill="#ecdbdb"/>
<line x1="506.00" y1="368.40" x2="514.40" y2="368.40" stroke="#ec3b36" stroke-width="1.5"/>
<line x1="518.90" y1="346.10" x2="518.90" y2="358.70" stroke="#d86666" stroke-width="1.25"/>
<line x1="518.90" y1="396.70" x2="518.90" y2="419.50" stroke="#d86666" stroke-width="1.25"/>
<line x1="516.20" y1="346.10" x2="521.60" y2="346.10" stroke="#d86666" stroke-width="1.4"/>
<line x1="516.20" y1="419.50" x2="521.60" y2="419.50" stroke="#d86666" stroke-width="1.4"/>
<rect x="518.15" y="338.40" width="1.50" height="1.80" fill="#d33d3d"/>
<rect x="518.15" y="425.80" width="1.50" height="1.80" fill="#d33d3d"/>
<rect x="514.70" y="358.70" width="8.40" height="38.00" fill="#dfb2b2"/>
<line x1="514.70" y1="367.00" x2="523.10" y2="367.00" stroke="#ec3b36" stroke-width="1.5"/>
<line x1="556.55" y1="339.90" x2="556.55" y2="360.00" stroke="#9e9e9e" stroke-width="1.25"/>
<line x1="556.55" y1="411.40" x2="556.55" y2="430.30" stroke="#9e9e9e" stroke-width="1.25"/>
<line x1="553.85" y1="339.90" x2="559.25" y2="339.90" stroke="#9e9e9e" stroke-width="1.4"/>
<line x1="553.85" y1="430.30" x2="559.25" y2="430.30" stroke="#9e9e9e" stroke-width="1.4"/>
<line x1="556.55" y1="336.40" x2="556.55" y2="338.50" stroke="#6e6e6e" stroke-width="1.3"/>
<line x1="556.55" y1="431.80" x2="556.55" y2="439.30" stroke="#6e6e6e" stroke-width="1.3"/>
<rect x="552.35" y="360.00" width="8.40" height="51.40" fill="#e5e5e7"/>
<line x1="552.35" y1="384.80" x2="560.75" y2="384.80" stroke="#ec3b36" stroke-width="1.5"/>
<line x1="565.25" y1="343.80" x2="565.25" y2="361.00" stroke="#8cc3f0" stroke-width="1.25"/>
<line x1="565.25" y1="412.60" x2="565.25" y2="430.30" stroke="#8cc3f0" stroke-width="1.25"/>
<line x1="562.55" y1="343.80" x2="567.95" y2="343.80" stroke="#8cc3f0" stroke-width="1.4"/>
<line x1="562.55" y1="430.30" x2="567.95" y2="430.30" stroke="#8cc3f0" stroke-width="1.4"/>
<rect x="564.50" y="336.50" width="1.50" height="1.80" fill="#62aaee"/>
<line x1="565.25" y1="431.80" x2="565.25" y2="438.40" stroke="#62aaee" stroke-width="1.3"/>
<rect x="561.05" y="361.00" width="8.40" height="51.60" fill="#bedcea"/>
<line x1="561.05" y1="393.00" x2="569.45" y2="393.00" stroke="#ec3b36" stroke-width="1.5"/>
<line x1="573.95" y1="348.40" x2="573.95" y2="361.60" stroke="#5a7fd6" stroke-width="1.25"/>
<line x1="573.95" y1="413.20" x2="573.95" y2="430.30" stroke="#5a7fd6" stroke-width="1.25"/>
<line x1="571.25" y1="348.40" x2="576.65" y2="348.40" stroke="#5a7fd6" stroke-width="1.4"/>
<line x1="571.25" y1="430.30" x2="576.65" y2="430.30" stroke="#5a7fd6" stroke-width="1.4"/>
<line x1="573.95" y1="431.80" x2="573.95" y2="437.60" stroke="#3e62c8" stroke-width="1.3"/>
<rect x="569.75" y="361.60" width="8.40" height="51.60" fill="#6fa7dc"/>
<line x1="569.75" y1="398.20" x2="578.15" y2="398.20" stroke="#ec3b36" stroke-width="1.5"/>
<line x1="582.65" y1="340.30" x2="582.65" y2="358.30" stroke="#e6a0a0" stroke-width="1.25"/>
<line x1="582.65" y1="408.90" x2="582.65" y2="427.80" stroke="#e6a0a0" stroke-width="1.25"/>
<line x1="579.95" y1="340.30" x2="585.35" y2="340.30" stroke="#e6a0a0" stroke-width="1.4"/>
<line x1="579.95" y1="427.80" x2="585.35" y2="427.80" stroke="#e6a0a0" stroke-width="1.4"/>
<line x1="582.65" y1="429.30" x2="582.65" y2="438.40" stroke="#df8080" stroke-width="1.3"/>
<rect x="578.45" y="358.30" width="8.40" height="50.60" fill="#ecdbdb"/>
<line x1="578.45" y1="375.50" x2="586.85" y2="375.50" stroke="#ec3b36" stroke-width="1.5"/>
<line x1="591.35" y1="342.80" x2="591.35" y2="357.10" stroke="#d86666" stroke-width="1.25"/>
<line x1="591.35" y1="403.20" x2="591.35" y2="422.10" stroke="#d86666" stroke-width="1.25"/>
<line x1="588.65" y1="342.80" x2="594.05" y2="342.80" stroke="#d86666" stroke-width="1.4"/>
<line x1="588.65" y1="422.10" x2="594.05" y2="422.10" stroke="#d86666" stroke-width="1.4"/>
<line x1="591.35" y1="423.60" x2="591.35" y2="437.60" stroke="#d33d3d" stroke-width="1.3" stroke-dasharray="1.5 1.6"/>
<rect x="587.15" y="357.10" width="8.40" height="46.10" fill="#dfb2b2"/>
<line x1="587.15" y1="360.60" x2="595.55" y2="360.60" stroke="#ec3b36" stroke-width="1.5"/>
<line x1="629.00" y1="347.50" x2="629.00" y2="362.60" stroke="#9e9e9e" stroke-width="1.25"/>
<line x1="629.00" y1="408.40" x2="629.00" y2="422.50" stroke="#9e9e9e" stroke-width="1.25"/>
<line x1="626.30" y1="347.50" x2="631.70" y2="347.50" stroke="#9e9e9e" stroke-width="1.4"/>
<line x1="626.30" y1="422.50" x2="631.70" y2="422.50" stroke="#9e9e9e" stroke-width="1.4"/>
<line x1="629.00" y1="333.90" x2="629.00" y2="346.00" stroke="#6e6e6e" stroke-width="1.3"/>
<rect x="628.25" y="328.20" width="1.50" height="1.80" fill="#6e6e6e"/>
<line x1="629.00" y1="424.00" x2="629.00" y2="438.60" stroke="#6e6e6e" stroke-width="1.3"/>
<rect x="624.80" y="362.60" width="8.40" height="45.80" fill="#e5e5e7"/>
<line x1="624.80" y1="380.50" x2="633.20" y2="380.50" stroke="#ec3b36" stroke-width="1.5"/>
<line x1="637.70" y1="347.10" x2="637.70" y2="362.60" stroke="#8cc3f0" stroke-width="1.25"/>
<line x1="637.70" y1="409.30" x2="637.70" y2="424.00" stroke="#8cc3f0" stroke-width="1.25"/>
<line x1="635.00" y1="347.10" x2="640.40" y2="347.10" stroke="#8cc3f0" stroke-width="1.4"/>
<line x1="635.00" y1="424.00" x2="640.40" y2="424.00" stroke="#8cc3f0" stroke-width="1.4"/>
<rect x="636.95" y="339.00" width="1.50" height="1.80" fill="#62aaee"/>
<line x1="637.70" y1="425.50" x2="637.70" y2="429.80" stroke="#62aaee" stroke-width="1.3"/>
<rect x="633.50" y="362.60" width="8.40" height="46.70" fill="#bedcea"/>
<line x1="633.50" y1="381.90" x2="641.90" y2="381.90" stroke="#ec3b36" stroke-width="1.5"/>
<line x1="646.40" y1="349.00" x2="646.40" y2="362.60" stroke="#5a7fd6" stroke-width="1.25"/>
<line x1="646.40" y1="410.20" x2="646.40" y2="423.40" stroke="#5a7fd6" stroke-width="1.25"/>
<line x1="643.70" y1="349.00" x2="649.10" y2="349.00" stroke="#5a7fd6" stroke-width="1.4"/>
<line x1="643.70" y1="423.40" x2="649.10" y2="423.40" stroke="#5a7fd6" stroke-width="1.4"/>
<rect x="645.65" y="337.10" width="1.50" height="1.80" fill="#3e62c8"/>
<rect x="645.65" y="344.80" width="1.50" height="1.80" fill="#3e62c8"/>
<rect x="645.65" y="427.10" width="1.50" height="1.80" fill="#3e62c8"/>
<rect x="642.20" y="362.60" width="8.40" height="47.60" fill="#6fa7dc"/>
<line x1="642.20" y1="381.30" x2="650.60" y2="381.30" stroke="#ec3b36" stroke-width="1.5"/>
<line x1="655.10" y1="347.10" x2="655.10" y2="362.60" stroke="#e6a0a0" stroke-width="1.25"/>
<line x1="655.10" y1="408.40" x2="655.10" y2="424.00" stroke="#e6a0a0" stroke-width="1.25"/>
<line x1="652.40" y1="347.10" x2="657.80" y2="347.10" stroke="#e6a0a0" stroke-width="1.4"/>
<line x1="652.40" y1="424.00" x2="657.80" y2="424.00" stroke="#e6a0a0" stroke-width="1.4"/>
<line x1="655.10" y1="339.30" x2="655.10" y2="345.60" stroke="#df8080" stroke-width="1.3"/>
<rect x="654.35" y="437.70" width="1.50" height="1.80" fill="#df8080"/>
<rect x="650.90" y="362.60" width="8.40" height="45.80" fill="#ecdbdb"/>
<line x1="650.90" y1="388.10" x2="659.30" y2="388.10" stroke="#ec3b36" stroke-width="1.5"/>
<line x1="663.80" y1="349.00" x2="663.80" y2="362.60" stroke="#d86666" stroke-width="1.25"/>
<line x1="663.80" y1="410.20" x2="663.80" y2="424.50" stroke="#d86666" stroke-width="1.25"/>
<line x1="661.10" y1="349.00" x2="666.50" y2="349.00" stroke="#d86666" stroke-width="1.4"/>
<line x1="661.10" y1="424.50" x2="666.50" y2="424.50" stroke="#d86666" stroke-width="1.4"/>
<rect x="663.05" y="344.80" width="1.50" height="1.80" fill="#d33d3d"/>
<rect x="663.05" y="425.80" width="1.50" height="1.80" fill="#d33d3d"/>
<rect x="659.60" y="362.60" width="8.40" height="47.60" fill="#dfb2b2"/>
<line x1="659.60" y1="388.10" x2="668.00" y2="388.10" stroke="#ec3b36" stroke-width="1.5"/>
<line x1="320.50" y1="362.40" x2="683.30" y2="362.40" stroke="#c99ce0" stroke-width="1.0" stroke-opacity="0.75"/>
<line x1="320.50" y1="408.40" x2="683.30" y2="408.40" stroke="#c99ce0" stroke-width="1.0" stroke-opacity="0.75"/>
<rect x="320.50" y="316.50" width="362.80" height="138.30" fill="none" stroke="#7a7a7a" stroke-width="1.3"/>
<text x="305.40" y="45.10" font-size="8.3" font-family="Liberation Serif" text-anchor="end" fill="#000">5</text>
<text x="305.40" y="78.20" font-size="8.3" font-family="Liberation Serif" text-anchor="end" fill="#000">2.5</text>
<text x="305.40" y="101.70" font-size="8.3" font-family="Liberation Serif" text-anchor="end" fill="#000">0.5</text>
<text x="305.40" y="146.40" font-size="8.3" font-family="Liberation Serif" text-anchor="end" fill="#000">0</text>
<text x="305.40" y="189.90" font-size="8.3" font-family="Liberation Serif" text-anchor="end" fill="#000">-0.5</text>
<text x="305.40" y="215.40" font-size="8.3" font-family="Liberation Serif" text-anchor="end" fill="#000">-2.5</text>
<text x="305.40" y="247.40" font-size="8.3" font-family="Liberation Serif" text-anchor="end" fill="#000">-5</text>
<text x="317.40" y="333.30" font-size="7.0" font-family="Liberation Serif" text-anchor="end" fill="#000">5</text>
<text x="317.40" y="350.20" font-size="7.0" font-family="Liberation Serif" text-anchor="end" fill="#000">2.5</text>
<text x="317.40" y="364.90" font-size="7.0" font-family="Liberation Serif" text-anchor="end" fill="#000">0.5</text>
<text x="317.40" y="387.90" font-size="7.0" font-family="Liberation Serif" text-anchor="end" fill="#000">0</text>
<text x="317.40" y="409.90" font-size="7.0" font-family="Liberation Serif" text-anchor="end" fill="#000">-0.5</text>
<text x="317.40" y="423.90" font-size="7.0" font-family="Liberation Serif" text-anchor="end" fill="#000">-2.5</text>
<text x="317.40" y="439.40" font-size="7.0" font-family="Liberation Serif" text-anchor="end" fill="#000">-5</text>
<text x="349.60" y="283.80" font-size="8.7" font-family="Liberation Serif" text-anchor="middle" fill="#000" stroke="#000" stroke-width="0.1">H1 hESC</text>
<text x="356.60" y="463.40" font-size="8.7" font-family="Liberation Serif" text-anchor="middle" fill="#000" stroke="#000" stroke-width="0.1">H1 hESC</text>
<text x="422.10" y="283.80" font-size="8.7" font-family="Liberation Serif" text-anchor="middle" fill="#000" stroke="#000" stroke-width="0.1">MES</text>
<text x="429.20" y="463.40" font-size="8.7" font-family="Liberation Serif" text-anchor="middle" fill="#000" stroke="#000" stroke-width="0.1">MES</text>
<text x="495.80" y="283.80" font-size="8.7" font-family="Liberation Serif" text-anchor="middle" fill="#000" stroke="#000" stroke-width="0.1">HPC</text>
<text x="503.30" y="463.40" font-size="8.7" font-family="Liberation Serif" text-anchor="middle" fill="#000" stroke="#000" stroke-width="0.1">HPC</text>
<text x="572.30" y="283.80" font-size="8.7" font-family="Liberation Serif" text-anchor="middle" fill="#000" stroke="#000" stroke-width="0.1">GM12878</text>
<text x="574.50" y="463.40" font-size="8.7" font-family="Liberation Serif" text-anchor="middle" fill="#000" stroke="#000" stroke-width="0.1">GM12878</text>
<text x="647.70" y="283.80" font-size="8.7" font-family="Liberation Serif" text-anchor="middle" fill="#000" stroke="#000" stroke-width="0.1">Psoas muscle</text>
<text x="645.00" y="463.40" font-size="8.7" font-family="Liberation Serif" text-anchor="middle" fill="#000" stroke="#000" stroke-width="0.1">Psoas muscle</text>
<text transform="translate(288.2,133.3) rotate(-90)" font-size="10.3" font-family="Liberation Serif" text-anchor="middle" stroke="#000" stroke-width="0.12">Expression of proximal genes (log10)</text>
<text transform="translate(299.8,392.7) rotate(-90)" font-size="10.05" font-family="Liberation Serif" text-anchor="middle" stroke="#000" stroke-width="0.12">Expression of Hi-C contact genes</text>
<rect x="485.5" y="254.5" width="195.5" height="19.0" fill="#fff" fill-opacity="0.9"/>
<rect x="488.40" y="259.90" width="14" height="5.2" rx="0.9" fill="#e5e5e7" stroke="#9a9a9a" stroke-width="0.7"/>
<text transform="translate(506.70,265.63) scale(0.77,1)" font-size="8.7" font-family="Liberation Sans" fill="#4a4a4a">all</text>
<rect x="527.90" y="259.90" width="14" height="5.2" rx="0.9" fill="#bedcea" stroke="#9a9a9a" stroke-width="0.7"/>
<text transform="translate(546.20,265.63) scale(0.77,1)" font-size="8.7" font-family="Liberation Sans" fill="#4a4a4a">TS</text>
<rect x="568.30" y="259.90" width="14" height="5.2" rx="0.9" fill="#6fa7dc" stroke="#9a9a9a" stroke-width="0.7"/>
<text x="583.80" y="262.30" font-size="6.6" font-family="Liberation Serif" text-anchor="start" fill="#333" stroke="#333" stroke-width="0.1">SS</text>
<text x="583.80" y="266.90" font-size="7.1" font-family="Liberation Serif" text-anchor="start" fill="#333" stroke="#333" stroke-width="0.1">comp</text>
<rect x="608.70" y="259.90" width="14" height="5.2" rx="0.9" fill="#ecdbdb" stroke="#9a9a9a" stroke-width="0.7"/>
<text transform="translate(627.00,265.63) scale(0.77,1)" font-size="8.7" font-family="Liberation Sans" fill="#4a4a4a">TE</text>
<rect x="649.20" y="259.90" width="14" height="5.2" rx="0.9" fill="#dfb2b2" stroke="#9a9a9a" stroke-width="0.7"/>
<text x="664.70" y="262.30" font-size="6.6" font-family="Liberation Serif" text-anchor="start" fill="#333" stroke="#333" stroke-width="0.1">SE</text>
<text x="664.70" y="266.90" font-size="7.1" font-family="Liberation Serif" text-anchor="start" fill="#333" stroke="#333" stroke-width="0.1">comp</text>
<rect x="517.5" y="440.5" width="165.0" height="13.800000000000011" fill="#fff" fill-opacity="0.9"/>
<rect x="521.00" y="443.90" width="11.8" height="4.5" rx="0.9" fill="#e5e5e7" stroke="#9a9a9a" stroke-width="0.7"/>
<text transform="translate(537.10,448.63) scale(0.77,1)" font-size="6.9" font-family="Liberation Sans" fill="#4a4a4a">all</text>
<rect x="554.50" y="443.90" width="11.8" height="4.5" rx="0.9" fill="#bedcea" stroke="#9a9a9a" stroke-width="0.7"/>
<text transform="translate(570.60,448.63) scale(0.77,1)" font-size="6.9" font-family="Liberation Sans" fill="#4a4a4a">TS</text>
<rect x="588.70" y="443.90" width="11.8" height="4.5" rx="0.9" fill="#6fa7dc" stroke="#9a9a9a" stroke-width="0.7"/>
<text x="602.00" y="445.95" font-size="5.6" font-family="Liberation Serif" text-anchor="start" fill="#333" stroke="#333" stroke-width="0.1">SS</text>
<text x="602.00" y="449.93" font-size="6.1" font-family="Liberation Serif" text-anchor="start" fill="#333" stroke="#333" stroke-width="0.1">comp</text>
<rect x="621.50" y="443.90" width="11.8" height="4.5" rx="0.9" fill="#ecdbdb" stroke="#9a9a9a" stroke-width="0.7"/>
<text transform="translate(637.60,448.63) scale(0.77,1)" font-size="6.9" font-family="Liberation Sans" fill="#4a4a4a">TE</text>
<rect x="655.40" y="443.90" width="11.8" height="4.5" rx="0.9" fill="#dfb2b2" stroke="#9a9a9a" stroke-width="0.7"/>
<text x="668.70" y="445.95" font-size="5.6" font-family="Liberation Serif" text-anchor="start" fill="#333" stroke="#333" stroke-width="0.1">SE</text>
<text x="668.70" y="449.93" font-size="6.1" font-family="Liberation Serif" text-anchor="start" fill="#333" stroke="#333" stroke-width="0.1">comp</text>
<polyline points="347.90,24.70 347.90,22.90 644.60,22.90 644.60,24.70" fill="none" stroke="#a0a0a0" stroke-width="1.4"/>
<circle cx="498.00" cy="16.50" r="1.3" fill="#404040"/>
<circle cx="502.00" cy="16.50" r="1.3" fill="#404040"/>
<polyline points="422.40,32.60 422.40,30.80 497.00,30.80 497.00,32.60" fill="none" stroke="#a0a0a0" stroke-width="1.4"/>
<circle cx="457.20" cy="26.80" r="1.3" fill="#404040"/>
<circle cx="461.20" cy="26.80" r="1.3" fill="#404040"/>
<polyline points="347.90,38.70 347.90,36.90 422.40,36.90 422.40,38.70" fill="none" stroke="#a0a0a0" stroke-width="1.4"/>
<circle cx="383.10" cy="32.00" r="1.3" fill="#404040"/>
<circle cx="387.10" cy="32.00" r="1.3" fill="#404040"/>
<polyline points="497.00,38.90 497.00,37.10 570.80,37.10 570.80,38.90" fill="none" stroke="#a0a0a0" stroke-width="1.4"/>
<circle cx="531.80" cy="32.00" r="1.3" fill="#404040"/>
<circle cx="535.80" cy="32.00" r="1.3" fill="#404040"/>
<polyline points="339.30,49.20 339.30,47.70 348.00,47.70 348.00,49.20" fill="none" stroke="#333" stroke-width="0.8"/>
<circle cx="340.50" cy="43.60" r="1.3" fill="#404040"/>
<circle cx="344.50" cy="43.60" r="1.3" fill="#404040"/>
<polyline points="413.70,48.80 413.70,47.30 422.40,47.30 422.40,48.80" fill="none" stroke="#333" stroke-width="0.8"/>
<text x="409.70" y="45.80" font-size="6.7" font-family="Liberation Serif" text-anchor="start" fill="#222" stroke="#222" stroke-width="0.15"><tspan font-style="italic">P</tspan> = 0.02</text>
<polyline points="487.90,48.80 487.90,47.30 497.00,47.30 497.00,48.80" fill="none" stroke="#333" stroke-width="0.8"/>
<text x="482.70" y="45.80" font-size="6.7" font-family="Liberation Serif" text-anchor="start" fill="#222" stroke="#222" stroke-width="0.15"><tspan font-style="italic">P</tspan> = 10<tspan font-size="5.2" dy="-2.3">−10</tspan></text>
<polyline points="561.60,49.20 561.60,47.70 570.80,47.70 570.80,49.20" fill="none" stroke="#333" stroke-width="0.8"/>
<circle cx="564.00" cy="43.40" r="1.3" fill="#404040"/>
<circle cx="568.00" cy="43.40" r="1.3" fill="#404040"/>
<polyline points="635.30,49.20 635.30,47.70 644.60,47.70 644.60,49.20" fill="none" stroke="#333" stroke-width="0.8"/>
<text x="629.30" y="42.40" font-size="6.7" font-family="Liberation Serif" text-anchor="start" fill="#222" stroke="#222" stroke-width="0.15"><tspan font-style="italic">P</tspan> = 0.27</text>
<polyline points="356.30,325.91 356.30,325.90 574.60,325.90 574.60,325.91" fill="none" stroke="#a0a0a0" stroke-width="1.4"/>
<circle cx="463.30" cy="321.40" r="1.3" fill="#404040"/>
<circle cx="467.30" cy="321.40" r="1.3" fill="#404040"/>
<line x1="336.80" y1="335.30" x2="357.60" y2="335.30" stroke="#505050" stroke-width="1.0"/>
<text x="335.70" y="333.40" font-size="6.7" font-family="Liberation Serif" text-anchor="start" fill="#222" stroke="#222" stroke-width="0.15"><tspan font-style="italic">P</tspan> = 10<tspan font-size="5.2" dy="-2.3">−18</tspan></text>
<line x1="338.80" y1="344.40" x2="374.70" y2="344.40" stroke="#505050" stroke-width="1.0"/>
<text x="362.00" y="341.70" font-size="6.7" font-family="Liberation Serif" text-anchor="start" fill="#222" stroke="#222" stroke-width="0.15"><tspan font-style="italic">P</tspan> = 10<tspan font-size="5.2" dy="-2.3">−5</tspan></text>
</svg></body></html>
